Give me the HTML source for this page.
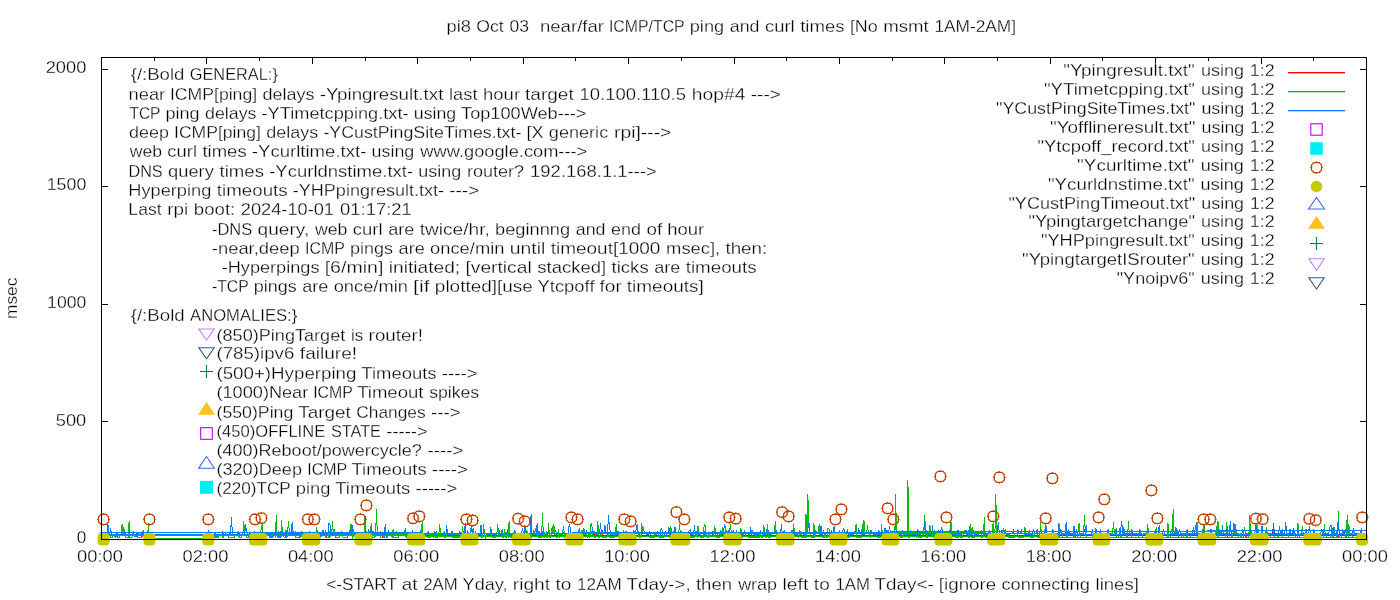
<!DOCTYPE html>
<html><head><meta charset="utf-8"><style>
html,body{margin:0;padding:0;background:#fff;width:1400px;height:600px;overflow:hidden}
svg{display:block;will-change:transform}
text{font-family:"Liberation Sans",sans-serif;fill:#000;stroke:#fff;stroke-width:0.3px}
</style></head><body>
<svg width="1400" height="600" viewBox="0 0 1400 600">
<rect width="1400" height="600" fill="#fff"/>
<g shape-rendering="crispEdges">
<polyline fill="none" stroke="#ff0000" stroke-width="1" points="206.9,535.5 207.8,535.5 208.7,535.5 209.6,535.5 210.4,535.5 211.3,535.5 212.2,535.5 213.1,535.5 213.9,535.5 214.8,535.5 215.7,535.5 216.6,535.5 217.5,535.5 218.3,535.5 219.2,535.5 220.1,535.5 221.0,535.5 221.9,535.5 222.7,535.5 223.6,535.5 224.5,535.5 225.4,533.5 226.2,535.5 227.1,535.5 228.0,535.5 228.9,535.5 229.8,535.5 230.6,535.5 231.5,535.5 232.4,535.5 233.3,535.5 234.1,535.5 235.0,535.5 235.9,535.5 236.8,535.5 237.7,535.5 238.5,535.5 239.4,535.5 240.3,535.5 241.2,535.5 242.1,535.5 242.9,535.5 243.8,535.5 244.7,535.5 245.6,535.5 246.4,535.5 247.3,535.5 248.2,535.5 249.1,535.5 250.0,533.5 250.8,535.5 251.7,535.5 252.6,535.5 253.5,535.5 254.4,535.5 255.2,535.5 256.1,535.5 257.0,535.5 257.9,535.5 258.7,535.5 259.6,536.5 260.5,535.5 261.4,535.5 262.3,535.5 263.1,535.5 264.0,535.5 264.9,535.5 265.8,535.5 266.7,535.5 267.5,535.5 268.4,535.5 269.3,535.5 270.2,535.5 271.0,535.5 271.9,535.5 272.8,535.5 273.7,535.5 274.6,535.5 275.4,535.5 276.3,535.5 277.2,535.5 278.1,535.5 279.0,535.5 279.8,535.5 280.7,535.5 281.6,535.5 282.5,535.5 283.3,535.5 284.2,535.5 285.1,535.5 286.0,535.5 286.9,535.5 287.7,535.5 288.6,535.5 289.5,535.5 290.4,535.5 291.3,535.5 292.1,535.5 293.0,535.5 293.9,535.5 294.8,535.5 295.6,535.5 296.5,535.5 297.4,535.5 298.3,535.5 299.2,535.5 300.0,535.5 300.9,535.5 301.8,535.5 302.7,535.5 303.5,535.5 304.4,535.5 305.3,535.5 306.2,535.5 307.1,535.5 307.9,535.5 308.8,535.5 309.7,535.5 310.6,535.5 311.5,535.5 312.3,535.5 313.2,535.5 314.1,535.5 315.0,535.5 315.8,535.5 316.7,535.5 317.6,535.5 318.5,535.5 319.4,535.5 320.2,535.5 321.1,535.5 322.0,535.5 322.9,535.5 323.8,535.5 324.6,535.5 325.5,535.5 326.4,536.5 327.3,535.5 328.1,535.5 329.0,535.5 329.9,535.5 330.8,535.5 331.7,535.5 332.5,535.5 333.4,535.5 334.3,535.5 335.2,535.5 336.1,535.5 336.9,535.5 337.8,535.5 338.7,535.5 339.6,535.5 340.4,535.5 341.3,535.5 342.2,535.5 343.1,535.5 344.0,535.5 344.8,535.5 345.7,535.5 346.6,535.5 347.5,535.5 348.4,535.5 349.2,535.5 350.1,535.5 351.0,535.5 351.9,535.5 352.7,535.5 353.6,535.5 354.5,535.5 355.4,535.5 356.3,535.5 357.1,535.5 358.0,535.5 358.9,535.5 359.8,535.5 360.6,535.5 361.5,535.5 362.4,536.5 363.3,535.5 364.2,533.5 365.0,535.5 365.9,535.5 366.8,535.5 367.7,535.5 368.6,535.5 369.4,535.5 370.3,535.5 371.2,535.5 372.1,535.5 372.9,535.5 373.8,535.5 374.7,535.5 375.6,533.5 376.5,535.5 377.3,535.5 378.2,535.5 379.1,535.5 380.0,535.5 380.9,535.5 381.7,535.5 382.6,536.5 383.5,535.5 384.4,535.5 385.2,535.5 386.1,535.5 387.0,535.5 387.9,535.5 388.8,535.5 389.6,535.5 390.5,535.5 391.4,535.5 392.3,535.5 393.2,535.5 394.0,535.5 394.9,535.5 395.8,535.5 396.7,535.5 397.5,535.5 398.4,535.5 399.3,535.5 400.2,535.5 401.1,535.5 401.9,535.5 402.8,535.5 403.7,535.5 404.6,535.5 405.5,535.5 406.3,535.5 407.2,535.5 408.1,535.5 409.0,535.5 409.8,535.5 410.7,535.5 411.6,535.5 412.5,535.5 413.4,535.5 414.2,535.5 415.1,535.5 416.0,535.5 416.9,535.5 417.8,535.5 418.6,535.5 419.5,535.5 420.4,535.5 421.3,535.5 422.1,535.5 423.0,535.5 423.9,535.5 424.8,535.5 425.7,535.5 426.5,535.5 427.4,535.5 428.3,535.5 429.2,535.5 430.0,535.5 430.9,535.5 431.8,535.5 432.7,535.5 433.6,535.5 434.4,535.5 435.3,535.5 436.2,535.5 437.1,535.5 438.0,535.5 438.8,535.5 439.7,535.5 440.6,535.5 441.5,535.5 442.3,535.5 443.2,535.5 444.1,535.5 445.0,535.5 445.9,535.5 446.7,535.5 447.6,535.5 448.5,535.5 449.4,535.5 450.3,535.5 451.1,535.5 452.0,535.5 452.9,535.5 453.8,535.5 454.6,536.5 455.5,535.5 456.4,535.5 457.3,535.5 458.2,535.5 459.0,535.5 459.9,535.5 460.8,535.5 461.7,535.5 462.6,535.5 463.4,535.5 464.3,535.5 465.2,535.5 466.1,535.5 466.9,535.5 467.8,535.5 468.7,535.5 469.6,535.5 470.5,535.5 471.3,535.5 472.2,535.5 473.1,535.5 474.0,535.5 474.9,533.5 475.7,535.5 476.6,535.5 477.5,535.5 478.4,535.5 479.2,535.5 480.1,535.5 481.0,535.5 481.9,535.5 482.8,535.5 483.6,535.5 484.5,535.5 485.4,535.5 486.3,535.5 487.1,535.5 488.0,535.5 488.9,535.5 489.8,535.5 490.7,535.5 491.5,535.5 492.4,535.5 493.3,535.5 494.2,535.5 495.1,535.5 495.9,535.5 496.8,535.5 497.7,535.5 498.6,535.5 499.4,535.5 500.3,535.5 501.2,535.5 502.1,535.5 503.0,535.5 503.8,535.5 504.7,535.5 505.6,536.5 506.5,533.5 507.4,535.5 508.2,535.5 509.1,535.5 510.0,535.5 510.9,535.5 511.7,535.5 512.6,535.5 513.5,535.5 514.4,535.5 515.3,535.5 516.1,535.5 517.0,535.5 517.9,535.5 518.8,535.5 519.7,535.5 520.5,535.5 521.4,535.5 522.3,535.5 523.2,535.5 524.0,535.5 524.9,535.5 525.8,535.5 526.7,535.5 527.6,535.5 528.4,533.5 529.3,535.5 530.2,536.5 531.1,535.5 532.0,535.5 532.8,535.5 533.7,535.5 534.6,535.5 535.5,535.5 536.3,535.5 537.2,535.5 538.1,535.5 539.0,535.5 539.9,535.5 540.7,535.5 541.6,535.5 542.5,535.5 543.4,535.5 544.3,535.5 545.1,535.5 546.0,535.5 546.9,535.5 547.8,535.5 548.6,535.5 549.5,535.5 550.4,535.5 551.3,535.5 552.2,535.5 553.0,535.5 553.9,535.5 554.8,535.5 555.7,535.5 556.5,535.5 557.4,535.5 558.3,535.5 559.2,535.5 560.1,535.5 560.9,535.5 561.8,535.5 562.7,535.5 563.6,535.5 564.5,535.5 565.3,535.5 566.2,535.5 567.1,535.5 568.0,535.5 568.8,533.5 569.7,535.5 570.6,535.5 571.5,535.5 572.4,535.5 573.2,535.5 574.1,535.5 575.0,535.5 575.9,535.5 576.8,535.5 577.6,535.5 578.5,535.5 579.4,536.5 580.3,535.5 581.1,535.5 582.0,535.5 582.9,535.5 583.8,535.5 584.7,535.5 585.5,535.5 586.4,535.5 587.3,535.5 588.2,535.5 589.1,535.5 589.9,535.5 590.8,535.5 591.7,535.5 592.6,535.5 593.4,535.5 594.3,533.5 595.2,535.5 596.1,535.5 597.0,535.5 597.8,535.5 598.7,535.5 599.6,535.5 600.5,535.5 601.4,535.5 602.2,533.5 603.1,535.5 604.0,535.5 604.9,535.5 605.7,535.5 606.6,535.5 607.5,535.5 608.4,535.5 609.3,535.5 610.1,535.5 611.0,535.5 611.9,535.5 612.8,535.5 613.6,535.5 614.5,535.5 615.4,535.5 616.3,535.5 617.2,535.5 618.0,535.5 618.9,535.5 619.8,535.5 620.7,535.5 621.6,535.5 622.4,535.5 623.3,535.5 624.2,535.5 625.1,536.5 625.9,535.5 626.8,535.5 627.7,535.5 628.6,535.5 629.5,535.5 630.3,535.5 631.2,535.5 632.1,535.5 633.0,535.5 633.9,535.5 634.7,535.5 635.6,535.5 636.5,535.5 637.4,535.5 638.2,535.5 639.1,535.5 640.0,535.5 640.9,535.5 641.8,535.5 642.6,535.5 643.5,535.5 644.4,535.5 645.3,535.5 646.2,536.5 647.0,535.5 647.9,535.5 648.8,535.5 649.7,535.5 650.5,535.5 651.4,535.5 652.3,535.5 653.2,535.5 654.1,535.5 654.9,535.5 655.8,535.5 656.7,535.5 657.6,535.5 658.5,535.5 659.3,535.5 660.2,535.5 661.1,535.5 662.0,535.5 662.8,535.5 663.7,535.5 664.6,535.5 665.5,535.5 666.4,535.5 667.2,535.5 668.1,535.5 669.0,535.5 669.9,535.5 670.7,535.5 671.6,535.5 672.5,535.5 673.4,535.5 674.3,533.5 675.1,535.5 676.0,535.5 676.9,535.5 677.8,535.5 678.7,535.5 679.5,535.5 680.4,535.5 681.3,535.5 682.2,535.5 683.0,535.5 683.9,535.5 684.8,535.5 685.7,535.5 686.6,535.5 687.4,535.5 688.3,535.5 689.2,535.5 690.1,535.5 691.0,535.5 691.8,535.5 692.7,535.5 693.6,535.5 694.5,535.5 695.3,535.5 696.2,535.5 697.1,535.5 698.0,535.5 698.9,535.5 699.7,535.5 700.6,535.5 701.5,535.5 702.4,535.5 703.3,535.5 704.1,535.5 705.0,535.5 705.9,535.5 706.8,535.5 707.6,535.5 708.5,535.5 709.4,535.5 710.3,535.5 711.2,535.5 712.0,535.5 712.9,535.5 713.8,535.5 714.7,535.5 715.6,535.5 716.4,535.5 717.3,535.5 718.2,535.5 719.1,535.5 719.9,535.5 720.8,535.5 721.7,535.5 722.6,535.5 723.5,535.5 724.3,535.5 725.2,535.5 726.1,535.5 727.0,536.5 727.9,535.5 728.7,535.5 729.6,535.5 730.5,535.5 731.4,535.5 732.2,535.5 733.1,535.5 734.0,535.5 734.9,535.5 735.8,535.5 736.6,535.5 737.5,535.5 738.4,535.5 739.3,535.5 740.1,535.5 741.0,535.5 741.9,535.5 742.8,535.5 743.7,535.5 744.5,535.5 745.4,535.5 746.3,535.5 747.2,535.5 748.1,535.5 748.9,535.5 749.8,535.5 750.7,535.5 751.6,535.5 752.4,535.5 753.3,535.5 754.2,535.5 755.1,535.5 756.0,535.5 756.8,535.5 757.7,535.5 758.6,535.5 759.5,535.5 760.4,535.5 761.2,535.5 762.1,535.5 763.0,535.5 763.9,535.5 764.7,535.5 765.6,535.5 766.5,535.5 767.4,535.5 768.3,535.5 769.1,535.5 770.0,535.5 770.9,535.5 771.8,535.5 772.7,535.5 773.5,535.5 774.4,535.5 775.3,535.5 776.2,535.5 777.0,535.5 777.9,535.5 778.8,535.5 779.7,535.5 780.6,535.5 781.4,535.5 782.3,535.5 783.2,535.5 784.1,535.5 785.0,535.5 785.8,535.5 786.7,535.5 787.6,535.5 788.5,535.5 789.3,535.5 790.2,535.5 791.1,535.5 792.0,535.5 792.9,535.5 793.7,535.5 794.6,535.5 795.5,535.5 796.4,535.5 797.2,535.5 798.1,535.5 799.0,535.5 799.9,535.5 800.8,533.5 801.6,535.5 802.5,535.5 803.4,535.5 804.3,535.5 805.2,535.5 806.0,535.5 806.9,535.5 807.8,535.5 808.7,535.5 809.5,535.5 810.4,535.5 811.3,535.5 812.2,535.5 813.1,535.5 813.9,535.5 814.8,535.5 815.7,535.5 816.6,535.5 817.5,535.5 818.3,535.5 819.2,535.5 820.1,535.5 821.0,535.5 821.8,535.5 822.7,535.5 823.6,535.5 824.5,535.5 825.4,535.5 826.2,535.5 827.1,535.5 828.0,535.5 828.9,535.5 829.8,535.5 830.6,535.5 831.5,535.5 832.4,535.5 833.3,535.5 834.1,535.5 835.0,535.5 835.9,535.5 836.8,535.5 837.7,535.5 838.5,535.5 839.4,535.5 840.3,535.5 841.2,535.5 842.1,535.5 842.9,535.5 843.8,535.5 844.7,535.5 845.6,535.5 846.4,535.5 847.3,535.5 848.2,535.5 849.1,535.5 850.0,535.5 850.8,535.5 851.7,535.5 852.6,535.5 853.5,535.5 854.4,535.5 855.2,535.5 856.1,535.5 857.0,535.5 857.9,535.5 858.7,535.5 859.6,535.5 860.5,535.5 861.4,535.5 862.3,535.5 863.1,535.5 864.0,535.5 864.9,535.5 865.8,535.5 866.6,535.5 867.5,535.5 868.4,535.5 869.3,535.5 870.2,535.5 871.0,535.5 871.9,535.5 872.8,535.5 873.7,535.5 874.6,535.5 875.4,535.5 876.3,535.5 877.2,535.5 878.1,535.5 878.9,535.5 879.8,535.5 880.7,535.5 881.6,535.5 882.5,535.5 883.3,535.5 884.2,535.5 885.1,535.5 886.0,535.5 886.9,535.5 887.7,536.5 888.6,535.5 889.5,535.5 890.4,535.5 891.2,535.5 892.1,535.5 893.0,535.5 893.9,535.5 894.8,535.5 895.6,535.5 896.5,535.5 897.4,535.5 898.3,535.5 899.2,535.5 900.0,535.5 900.9,535.5 901.8,535.5 902.7,535.5 903.5,535.5 904.4,535.5 905.3,535.5 906.2,535.5 907.1,535.5 907.9,535.5 908.8,535.5 909.7,535.5 910.6,535.5 911.5,535.5 912.3,535.5 913.2,535.5 914.1,535.5 915.0,533.5 915.8,535.5 916.7,535.5 917.6,535.5 918.5,535.5 919.4,535.5 920.2,535.5 921.1,535.5 922.0,535.5 922.9,535.5 923.7,535.5 924.6,535.5 925.5,535.5 926.4,535.5 927.3,535.5 928.1,535.5 929.0,535.5 929.9,535.5 930.8,535.5 931.7,535.5 932.5,535.5 933.4,535.5 934.3,535.5 935.2,535.5 936.0,536.5 936.9,535.5 937.8,535.5 938.7,535.5 939.6,535.5 940.4,535.5 941.3,535.5 942.2,535.5 943.1,535.5 944.0,535.5 944.8,535.5 945.7,535.5 946.6,535.5 947.5,535.5 948.3,535.5 949.2,535.5 950.1,535.5 951.0,535.5 951.9,535.5 952.7,535.5 953.6,535.5 954.5,535.5 955.4,535.5 956.3,535.5 957.1,535.5 958.0,535.5 958.9,535.5 959.8,535.5 960.6,535.5 961.5,535.5 962.4,535.5 963.3,535.5 964.2,535.5 965.0,535.5 965.9,535.5 966.8,535.5 967.7,535.5 968.6,535.5 969.4,535.5 970.3,535.5 971.2,535.5 972.1,535.5 972.9,535.5 973.8,535.5 974.7,535.5 975.6,535.5 976.5,535.5 977.3,535.5 978.2,535.5 979.1,535.5 980.0,535.5 980.9,535.5 981.7,535.5 982.6,535.5 983.5,535.5 984.4,535.5 985.2,535.5 986.1,535.5 987.0,535.5 987.9,535.5 988.8,535.5 989.6,535.5 990.5,535.5 991.4,535.5 992.3,535.5 993.1,535.5 994.0,535.5 994.9,535.5 995.8,535.5 996.7,535.5 997.5,535.5 998.4,535.5 999.3,535.5 1000.2,535.5 1001.1,535.5 1001.9,535.5 1002.8,535.5 1003.7,535.5 1004.6,535.5 1005.4,535.5 1006.3,535.5 1007.2,533.5 1008.1,535.5 1009.0,535.5 1009.8,535.5 1010.7,535.5 1011.6,535.5 1012.5,535.5 1013.4,535.5 1014.2,535.5 1015.1,535.5 1016.0,535.5 1016.9,535.5 1017.7,535.5 1018.6,535.5 1019.5,535.5 1020.4,535.5 1021.3,535.5 1022.1,535.5 1023.0,535.5 1023.9,535.5 1024.8,535.5 1025.7,535.5 1026.5,535.5 1027.4,536.5 1028.3,535.5 1029.2,535.5 1030.0,535.5 1030.9,535.5 1031.8,535.5 1032.7,535.5 1033.6,535.5 1034.4,535.5 1035.3,535.5 1036.2,535.5 1037.1,535.5 1038.0,535.5 1038.8,535.5 1039.7,535.5 1040.6,535.5 1041.5,535.5 1042.3,535.5 1043.2,533.5 1044.1,535.5 1045.0,535.5 1045.9,535.5 1046.7,535.5 1047.6,535.5 1048.5,535.5 1049.4,535.5 1050.2,535.5 1051.1,535.5 1052.0,535.5 1052.9,535.5 1053.8,535.5 1054.6,535.5 1055.5,535.5 1056.4,535.5 1057.3,535.5 1058.2,535.5 1059.0,535.5 1059.9,535.5 1060.8,535.5 1061.7,535.5 1062.5,535.5 1063.4,535.5 1064.3,535.5 1065.2,535.5 1066.1,535.5 1066.9,535.5 1067.8,535.5 1068.7,535.5 1069.6,535.5 1070.5,535.5 1071.3,535.5 1072.2,535.5 1073.1,533.5 1074.0,535.5 1074.8,535.5 1075.7,535.5 1076.6,535.5 1077.5,535.5 1078.4,535.5 1079.2,535.5 1080.1,535.5 1081.0,535.5 1081.9,535.5 1082.8,535.5 1083.6,535.5 1084.5,535.5 1085.4,535.5 1086.3,535.5 1087.1,535.5 1088.0,535.5 1088.9,535.5 1089.8,535.5 1090.7,535.5 1091.5,535.5 1092.4,535.5 1093.3,535.5 1094.2,535.5 1095.1,535.5 1095.9,535.5 1096.8,535.5 1097.7,535.5 1098.6,535.5 1099.4,535.5 1100.3,535.5 1101.2,535.5 1102.1,535.5 1103.0,535.5 1103.8,535.5 1104.7,535.5 1105.6,535.5 1106.5,535.5 1107.4,533.5 1108.2,535.5 1109.1,535.5 1110.0,535.5 1110.9,535.5 1111.7,535.5 1112.6,535.5 1113.5,535.5 1114.4,535.5 1115.3,535.5 1116.1,535.5 1117.0,535.5 1117.9,535.5 1118.8,535.5 1119.6,535.5 1120.5,535.5 1121.4,535.5 1122.3,535.5 1123.2,535.5 1124.0,535.5 1124.9,535.5 1125.8,535.5 1126.7,535.5 1127.6,535.5 1128.4,535.5 1129.3,535.5 1130.2,535.5 1131.1,535.5 1131.9,535.5 1132.8,535.5 1133.7,535.5 1134.6,535.5 1135.5,535.5 1136.3,535.5 1137.2,535.5 1138.1,535.5 1139.0,535.5 1139.9,535.5 1140.7,535.5 1141.6,535.5 1142.5,535.5 1143.4,535.5 1144.2,535.5 1145.1,535.5 1146.0,535.5 1146.9,535.5 1147.8,535.5 1148.6,535.5 1149.5,535.5 1150.4,535.5 1151.3,535.5 1152.2,535.5 1153.0,535.5 1153.9,535.5 1154.8,535.5 1155.7,535.5 1156.5,535.5 1157.4,535.5 1158.3,535.5 1159.2,535.5 1160.1,535.5 1160.9,535.5 1161.8,535.5 1162.7,535.5 1163.6,535.5 1164.5,535.5 1165.3,535.5 1166.2,535.5 1167.1,535.5 1168.0,535.5 1168.8,535.5 1169.7,535.5 1170.6,535.5 1171.5,535.5 1172.4,535.5 1173.2,535.5 1174.1,535.5 1175.0,535.5 1175.9,535.5 1176.7,535.5 1177.6,535.5 1178.5,535.5 1179.4,535.5 1180.3,535.5 1181.1,535.5 1182.0,535.5 1182.9,535.5 1183.8,535.5 1184.7,535.5 1185.5,535.5 1186.4,535.5 1187.3,535.5 1188.2,535.5 1189.0,535.5 1189.9,535.5 1190.8,535.5 1191.7,535.5 1192.6,535.5 1193.4,535.5 1194.3,535.5 1195.2,535.5 1196.1,535.5 1197.0,535.5 1197.8,535.5 1198.7,535.5 1199.6,535.5 1200.5,535.5 1201.3,535.5 1202.2,535.5 1203.1,535.5 1204.0,535.5 1204.9,535.5 1205.7,535.5 1206.6,535.5 1207.5,535.5 1208.4,535.5 1209.3,535.5 1210.1,535.5 1211.0,536.5 1211.9,535.5 1212.8,535.5 1213.6,535.5 1214.5,535.5 1215.4,535.5 1216.3,535.5 1217.2,535.5 1218.0,535.5 1218.9,535.5 1219.8,535.5 1220.7,535.5 1221.6,535.5 1222.4,535.5 1223.3,535.5 1224.2,535.5 1225.1,535.5 1225.9,535.5 1226.8,535.5 1227.7,535.5 1228.6,535.5 1229.5,535.5 1230.3,535.5 1231.2,535.5 1232.1,535.5 1233.0,535.5 1233.9,535.5 1234.7,535.5 1235.6,535.5 1236.5,535.5 1237.4,535.5 1238.2,535.5 1239.1,535.5 1240.0,535.5 1240.9,535.5 1241.8,535.5 1242.6,535.5 1243.5,535.5 1244.4,535.5 1245.3,535.5 1246.1,536.5 1247.0,535.5 1247.9,535.5 1248.8,535.5 1249.7,535.5 1250.5,535.5 1251.4,535.5 1252.3,535.5 1253.2,535.5 1254.1,535.5 1254.9,535.5 1255.8,535.5 1256.7,535.5 1257.6,535.5 1258.4,535.5 1259.3,535.5 1260.2,535.5 1261.1,535.5 1262.0,535.5 1262.8,535.5 1263.7,535.5 1264.6,535.5 1265.5,535.5 1266.4,535.5 1267.2,535.5 1268.1,535.5 1269.0,535.5 1269.9,535.5 1270.7,535.5 1271.6,535.5 1272.5,535.5 1273.4,523.5 1274.3,535.5 1275.1,535.5 1276.0,535.5 1276.9,535.5 1277.8,535.5 1278.7,535.5 1279.5,535.5 1280.4,535.5 1281.3,535.5 1282.2,535.5 1283.0,535.5 1283.9,535.5 1284.8,535.5 1285.7,535.5 1286.6,535.5 1287.4,535.5 1288.3,535.5 1289.2,535.5 1290.1,535.5 1291.0,535.5 1291.8,535.5 1292.7,535.5 1293.6,533.5 1294.5,535.5 1295.3,535.5 1296.2,535.5 1297.1,535.5 1298.0,535.5 1298.9,535.5 1299.7,535.5 1300.6,535.5 1301.5,535.5 1302.4,535.5 1303.2,535.5 1304.1,535.5 1305.0,535.5 1305.9,535.5 1306.8,535.5 1307.6,535.5 1308.5,535.5 1309.4,535.5 1310.3,535.5 1311.2,535.5 1312.0,535.5 1312.9,535.5 1313.8,535.5 1314.7,535.5 1315.5,535.5 1316.4,535.5 1317.3,535.5 1318.2,535.5 1319.1,535.5 1319.9,535.5 1320.8,535.5 1321.7,535.5 1322.6,535.5 1323.5,535.5 1324.3,535.5 1325.2,535.5 1326.1,535.5 1327.0,535.5 1327.8,535.5 1328.7,535.5 1329.6,535.5 1330.5,535.5 1331.4,535.5 1332.2,535.5 1333.1,535.5 1334.0,535.5 1334.9,535.5 1335.8,535.5 1336.6,535.5 1337.5,535.5 1338.4,536.5 1339.3,535.5 1340.1,535.5 1341.0,535.5 1341.9,535.5 1342.8,535.5 1343.7,535.5 1344.5,535.5 1345.4,535.5 1346.3,535.5 1347.2,535.5 1348.1,535.5 1348.9,535.5 1349.8,535.5 1350.7,535.5 1351.6,535.5 1352.4,535.5 1353.3,535.5 1354.2,535.5 1355.1,535.5 1356.0,535.5 1356.8,535.5 1357.7,535.5 1358.6,535.5 1359.5,535.5 1360.4,535.5 1361.2,535.5 1362.1,535.5 1363.0,535.5 1363.9,535.5 1364.7,535.5 1365.6,535.5 101.0,535.5 101.9,535.5 102.8,535.5 103.6,535.5 104.5,535.5 105.4,535.5 106.3,535.5 107.1,535.5 108.0,535.5 108.9,535.5 109.8,535.5 110.7,535.5 111.5,535.5 112.4,535.5 113.3,535.5 114.2,535.5 115.1,535.5 115.9,535.5 116.8,535.5 117.7,535.5 118.6,535.5 119.4,535.5 120.3,535.5 121.2,535.5 122.1,535.5 123.0,535.5 123.8,535.5 124.7,535.5 125.6,535.5 126.5,535.5 127.4,535.5 128.2,535.5 129.1,535.5 130.0,535.5 130.9,535.5 131.7,535.5 132.6,535.5 133.5,535.5 134.4,535.5 135.3,535.5 136.1,533.5 137.0,535.5 137.9,535.5 138.8,535.5 139.7,535.5 140.5,535.5 141.4,535.5 142.3,536.5 143.2,535.5 144.0,535.5 144.9,535.5 145.8,535.5 146.7,535.5 147.6,535.5 148.4,535.5 149.3,535.5"/>
<line x1="101" y1="535.5" x2="1366" y2="530.5" stroke="#00c000" stroke-width="1"/>
<rect x="150" y="538" width="60" height="1" fill="#00c000"/>
<polyline fill="none" stroke="#00c000" stroke-width="1" points="206.9,535.2 207.8,535.2 208.7,537.5 209.6,537.5 210.4,537.5 211.3,537.5 212.2,535.1 213.1,535.1 213.9,535.1 214.8,537.5 215.7,537.5 216.6,537.5 217.5,537.5 218.3,537.5 219.2,535.1 220.1,535.1 221.0,535.1 221.9,535.1 222.7,537.5 223.6,537.5 224.5,535.1 225.4,535.1 226.2,535.1 227.1,535.1 228.0,535.1 228.9,537.5 229.8,537.5 230.6,537.5 231.5,537.5 232.4,537.5 233.3,537.5 234.1,537.5 235.0,535.1 235.9,535.1 236.8,535.1 237.7,535.1 238.5,535.1 239.4,537.5 240.3,537.5 241.2,537.5 242.1,535.1 242.9,535.1 243.8,521.5 244.7,535.1 245.6,535.1 246.4,537.5 247.3,537.5 248.2,537.5 249.1,535.0 250.0,535.0 250.8,535.0 251.7,537.5 252.6,537.5 253.5,537.5 254.4,537.5 255.2,537.5 256.1,537.5 257.0,537.5 257.9,535.0 258.7,535.0 259.6,535.0 260.5,535.0 261.4,527.0 262.3,523.5 263.1,537.5 264.0,537.5 264.9,537.5 265.8,535.0 266.7,535.0 267.5,535.0 268.4,535.0 269.3,535.0 270.2,537.5 271.0,537.5 271.9,537.5 272.8,537.5 273.7,535.0 274.6,535.0 275.4,537.5 276.3,515.5 277.2,537.5 278.1,537.5 279.0,537.5 279.8,537.5 280.7,537.5 281.6,520.5 282.5,534.9 283.3,534.9 284.2,537.5 285.1,537.5 286.0,529.9 286.9,537.5 287.7,529.9 288.6,521.5 289.5,534.9 290.4,534.9 291.3,534.9 292.1,529.9 293.0,534.9 293.9,534.9 294.8,534.9 295.6,537.5 296.5,537.5 297.4,537.5 298.3,537.5 299.2,537.5 300.0,534.9 300.9,537.5 301.8,534.9 302.7,534.9 303.5,537.5 304.4,534.9 305.3,534.9 306.2,534.9 307.1,534.9 307.9,534.9 308.8,537.5 309.7,537.5 310.6,537.5 311.5,537.5 312.3,537.5 313.2,534.8 314.1,534.8 315.0,537.5 315.8,537.5 316.7,526.8 317.6,537.5 318.5,537.5 319.4,537.5 320.2,537.5 321.1,534.8 322.0,534.8 322.9,534.8 323.8,534.8 324.6,534.8 325.5,537.5 326.4,537.5 327.3,537.5 328.1,537.5 329.0,530.8 329.9,537.5 330.8,534.8 331.7,534.8 332.5,521.5 333.4,534.8 334.3,528.8 335.2,537.5 336.1,537.5 336.9,537.5 337.8,537.5 338.7,537.5 339.6,537.5 340.4,534.7 341.3,534.7 342.2,534.7 343.1,537.5 344.0,537.5 344.8,537.5 345.7,537.5 346.6,537.5 347.5,537.5 348.4,534.7 349.2,534.7 350.1,534.7 351.0,524.5 351.9,534.7 352.7,537.5 353.6,534.7 354.5,534.7 355.4,534.7 356.3,534.7 357.1,534.7 358.0,534.7 358.9,534.7 359.8,537.5 360.6,537.5 361.5,534.7 362.4,534.7 363.3,534.7 364.2,534.7 365.0,515.5 365.9,534.7 366.8,531.7 367.7,534.7 368.6,537.5 369.4,537.5 370.3,537.5 371.2,523.5 372.1,537.5 372.9,537.5 373.8,537.5 374.7,537.5 375.6,534.6 376.5,508.8 377.3,534.6 378.2,534.6 379.1,534.6 380.0,534.6 380.9,537.5 381.7,537.5 382.6,537.5 383.5,537.5 384.4,537.5 385.2,537.5 386.1,537.5 387.0,537.5 387.9,534.6 388.8,534.6 389.6,534.6 390.5,534.6 391.4,534.6 392.3,537.5 393.2,528.6 394.0,537.5 394.9,537.5 395.8,537.5 396.7,537.5 397.5,537.5 398.4,537.5 399.3,534.6 400.2,534.6 401.1,534.6 401.9,534.6 402.8,534.6 403.7,534.6 404.6,534.6 405.5,534.6 406.3,537.5 407.2,537.5 408.1,537.5 409.0,537.5 409.8,537.5 410.7,537.5 411.6,534.5 412.5,534.5 413.4,534.5 414.2,534.5 415.1,534.5 416.0,534.5 416.9,534.5 417.8,537.5 418.6,537.5 419.5,537.5 420.4,537.5 421.3,534.5 422.1,522.5 423.0,534.5 423.9,534.5 424.8,534.5 425.7,534.5 426.5,534.5 427.4,537.5 428.3,537.5 429.2,537.5 430.0,537.5 430.9,534.5 431.8,534.5 432.7,534.5 433.6,537.5 434.4,531.4 435.3,537.5 436.2,537.5 437.1,537.5 438.0,537.5 438.8,534.4 439.7,524.5 440.6,534.4 441.5,534.4 442.3,534.4 443.2,534.4 444.1,534.4 445.0,537.5 445.9,537.5 446.7,534.4 447.6,534.4 448.5,534.4 449.4,534.4 450.3,534.4 451.1,534.4 452.0,534.4 452.9,537.5 453.8,537.5 454.6,537.5 455.5,537.5 456.4,537.5 457.3,537.5 458.2,537.5 459.0,537.5 459.9,534.4 460.8,534.4 461.7,534.4 462.6,526.4 463.4,534.4 464.3,534.4 465.2,534.4 466.1,534.4 466.9,537.5 467.8,537.5 468.7,537.5 469.6,537.5 470.5,537.5 471.3,534.3 472.2,534.3 473.1,537.5 474.0,537.5 474.9,537.5 475.7,537.5 476.6,534.3 477.5,534.3 478.4,534.3 479.2,534.3 480.1,534.3 481.0,534.3 481.9,537.5 482.8,537.5 483.6,524.5 484.5,534.3 485.4,537.5 486.3,534.3 487.1,534.3 488.0,534.3 488.9,534.3 489.8,534.3 490.7,534.3 491.5,534.3 492.4,537.5 493.3,537.5 494.2,537.5 495.1,537.5 495.9,534.3 496.8,534.3 497.7,524.2 498.6,534.3 499.4,534.3 500.3,534.3 501.2,534.3 502.1,537.5 503.0,537.5 503.8,537.5 504.7,529.2 505.6,537.5 506.5,537.5 507.4,529.2 508.2,537.5 509.1,521.5 510.0,534.2 510.9,537.5 511.7,537.5 512.6,534.2 513.5,534.2 514.4,537.5 515.3,537.5 516.1,537.5 517.0,537.5 517.9,537.5 518.8,537.5 519.7,534.2 520.5,534.2 521.4,537.5 522.3,537.5 523.2,534.2 524.0,534.2 524.9,534.2 525.8,537.5 526.7,530.2 527.6,534.2 528.4,534.2 529.3,537.5 530.2,537.5 531.1,537.5 532.0,534.1 532.8,534.1 533.7,534.1 534.6,534.1 535.5,528.1 536.3,534.1 537.2,534.1 538.1,534.1 539.0,537.5 539.9,537.5 540.7,537.5 541.6,537.5 542.5,513.5 543.4,537.5 544.3,537.5 545.1,534.1 546.0,534.1 546.9,537.5 547.8,537.5 548.6,523.5 549.5,537.5 550.4,537.5 551.3,534.1 552.2,526.1 553.0,534.1 553.9,524.5 554.8,534.1 555.7,534.1 556.5,537.5 557.4,537.5 558.3,529.1 559.2,537.5 560.1,534.0 560.9,534.0 561.8,534.0 562.7,534.0 563.6,526.0 564.5,537.5 565.3,534.0 566.2,534.0 567.1,534.0 568.0,534.0 568.8,537.5 569.7,534.0 570.6,534.0 571.5,534.0 572.4,534.0 573.2,534.0 574.1,534.0 575.0,534.0 575.9,534.0 576.8,537.5 577.6,537.5 578.5,537.5 579.4,537.5 580.3,537.5 581.1,537.5 582.0,530.0 582.9,534.0 583.8,534.0 584.7,534.0 585.5,534.0 586.4,534.0 587.3,537.5 588.2,534.0 589.1,534.0 589.9,537.5 590.8,524.5 591.7,523.9 592.6,534.0 593.4,534.0 594.3,537.5 595.2,537.5 596.1,533.9 597.0,533.9 597.8,521.5 598.7,537.5 599.6,537.5 600.5,533.9 601.4,533.9 602.2,537.5 603.1,537.5 604.0,537.5 604.9,537.5 605.7,537.5 606.6,537.5 607.5,533.9 608.4,533.9 609.3,537.5 610.1,537.5 611.0,537.5 611.9,537.5 612.8,537.5 613.6,537.5 614.5,537.5 615.4,533.9 616.3,524.5 617.2,533.9 618.0,533.9 618.9,533.9 619.8,533.9 620.7,533.9 621.6,537.5 622.4,537.5 623.3,529.8 624.2,533.8 625.1,533.8 625.9,533.8 626.8,533.8 627.7,533.8 628.6,533.8 629.5,537.5 630.3,537.5 631.2,537.5 632.1,533.8 633.0,533.8 633.9,533.8 634.7,533.8 635.6,533.8 636.5,533.8 637.4,533.8 638.2,533.8 639.1,537.5 640.0,537.5 640.9,537.5 641.8,523.5 642.6,533.8 643.5,527.5 644.4,533.8 645.3,533.8 646.2,533.8 647.0,533.8 647.9,533.8 648.8,533.8 649.7,537.5 650.5,537.5 651.4,537.5 652.3,537.5 653.2,537.5 654.1,537.5 654.9,533.7 655.8,533.7 656.7,533.7 657.6,533.7 658.5,533.7 659.3,537.5 660.2,537.5 661.1,537.5 662.0,537.5 662.8,537.5 663.7,537.5 664.6,533.7 665.5,533.7 666.4,533.7 667.2,533.7 668.1,533.7 669.0,533.7 669.9,537.5 670.7,525.7 671.6,533.7 672.5,533.7 673.4,533.7 674.3,533.7 675.1,533.7 676.0,537.5 676.9,533.7 677.8,533.7 678.7,533.7 679.5,524.5 680.4,533.7 681.3,537.5 682.2,537.5 683.0,537.5 683.9,533.7 684.8,533.7 685.7,533.7 686.6,533.7 687.4,533.7 688.3,537.5 689.2,537.5 690.1,537.5 691.0,537.5 691.8,537.5 692.7,537.5 693.6,537.5 694.5,537.5 695.3,533.6 696.2,533.6 697.1,537.5 698.0,525.6 698.9,533.6 699.7,533.6 700.6,537.5 701.5,537.5 702.4,537.5 703.3,537.5 704.1,525.6 705.0,524.5 705.9,533.6 706.8,533.6 707.6,537.5 708.5,537.5 709.4,533.6 710.3,533.6 711.2,533.6 712.0,533.6 712.9,533.6 713.8,533.6 714.7,525.6 715.6,533.6 716.4,537.5 717.3,537.5 718.2,537.5 719.1,537.5 719.9,537.5 720.8,533.5 721.7,533.5 722.6,527.5 723.5,537.5 724.3,537.5 725.2,537.5 726.1,537.5 727.0,530.5 727.9,537.5 728.7,533.5 729.6,530.5 730.5,524.5 731.4,533.5 732.2,533.5 733.1,530.5 734.0,537.5 734.9,533.5 735.8,533.5 736.6,533.5 737.5,533.5 738.4,537.5 739.3,537.5 740.1,537.5 741.0,528.5 741.9,537.5 742.8,537.5 743.7,533.5 744.5,533.5 745.4,533.5 746.3,533.5 747.2,533.5 748.1,533.5 748.9,537.5 749.8,537.5 750.7,537.5 751.6,537.5 752.4,537.5 753.3,537.5 754.2,537.5 755.1,537.5 756.0,533.5 756.8,537.5 757.7,537.5 758.6,537.5 759.5,537.5 760.4,533.5 761.2,537.5 762.1,537.5 763.0,533.5 763.9,525.4 764.7,533.5 765.6,533.5 766.5,537.5 767.4,524.5 768.3,537.5 769.1,537.5 770.0,537.5 770.9,537.5 771.8,533.5 772.7,533.5 773.5,533.5 774.4,533.5 775.3,521.5 776.2,537.5 777.0,533.5 777.9,537.5 778.8,533.5 779.7,533.5 780.6,537.5 781.4,537.5 782.3,533.5 783.2,533.5 784.1,533.5 785.0,533.5 785.8,537.5 786.7,537.5 787.6,537.5 788.5,537.5 789.3,537.5 790.2,537.5 791.1,533.5 792.0,533.5 792.9,533.5 793.7,524.5 794.6,533.5 795.5,533.5 796.4,533.5 797.2,533.5 798.1,537.5 799.0,537.5 799.9,533.5 800.8,533.5 801.6,537.5 802.5,537.5 803.4,537.5 804.3,537.5 805.2,537.5 806.0,514.5 806.9,537.5 807.8,494.5 808.7,516.5 809.5,533.5 810.4,533.5 811.3,537.5 812.2,537.5 813.1,537.5 813.9,523.5 814.8,537.5 815.7,533.5 816.6,533.5 817.5,533.5 818.3,533.5 819.2,524.5 820.1,533.5 821.0,533.5 821.8,533.5 822.7,537.5 823.6,537.5 824.5,537.5 825.4,533.5 826.2,537.5 827.1,537.5 828.0,528.2 828.9,528.2 829.8,537.5 830.6,537.5 831.5,537.5 832.4,537.5 833.3,533.5 834.1,533.5 835.0,533.5 835.9,533.5 836.8,533.5 837.7,533.5 838.5,533.5 839.4,533.5 840.3,537.5 841.2,537.5 842.1,537.5 842.9,537.5 843.8,537.5 844.7,533.5 845.6,533.5 846.4,533.5 847.3,537.5 848.2,537.5 849.1,537.5 850.0,533.5 850.8,533.5 851.7,533.5 852.6,533.5 853.5,533.5 854.4,533.5 855.2,533.5 856.1,524.5 857.0,537.5 857.9,537.5 858.7,537.5 859.6,537.5 860.5,537.5 861.4,537.5 862.3,524.5 863.1,533.5 864.0,520.5 864.9,533.5 865.8,533.5 866.6,533.5 867.5,525.1 868.4,533.5 869.3,533.5 870.2,537.5 871.0,533.5 871.9,533.5 872.8,533.5 873.7,533.5 874.6,533.5 875.4,533.5 876.3,533.5 877.2,537.5 878.1,537.5 878.9,537.5 879.8,537.5 880.7,537.5 881.6,524.5 882.5,537.5 883.3,537.5 884.2,533.5 885.1,533.5 886.0,533.5 886.9,533.5 887.7,533.5 888.6,533.5 889.5,533.5 890.4,533.5 891.2,537.5 892.1,537.5 893.0,537.5 893.9,533.5 894.8,537.5 895.6,494.5 896.5,533.5 897.4,533.5 898.3,533.5 899.2,533.5 900.0,533.5 900.9,537.5 901.8,537.5 902.7,537.5 903.5,533.5 904.4,533.5 905.3,533.5 906.2,533.5 907.1,533.5 907.9,480.5 908.8,537.5 909.7,537.5 910.6,533.5 911.5,533.5 912.3,533.5 913.2,533.5 914.1,533.5 915.0,533.5 915.8,533.5 916.7,537.5 917.6,528.9 918.5,537.5 919.4,537.5 920.2,537.5 921.1,537.5 922.0,537.5 922.9,533.5 923.7,533.5 924.6,515.5 925.5,527.9 926.4,537.5 927.3,537.5 928.1,533.5 929.0,533.5 929.9,524.9 930.8,533.5 931.7,533.5 932.5,533.5 933.4,537.5 934.3,533.5 935.2,533.5 936.0,533.5 936.9,533.5 937.8,533.5 938.7,537.5 939.6,533.5 940.4,533.5 941.3,533.5 942.2,533.5 943.1,537.5 944.0,537.5 944.8,537.5 945.7,537.5 946.6,537.5 947.5,537.5 948.3,537.5 949.2,533.5 950.1,533.5 951.0,521.5 951.9,533.5 952.7,533.5 953.6,533.5 954.5,533.5 955.4,537.5 956.3,537.5 957.1,529.8 958.0,537.5 958.9,537.5 959.8,533.5 960.6,537.5 961.5,537.5 962.4,537.5 963.3,533.5 964.2,533.5 965.0,529.8 965.9,533.5 966.8,533.5 967.7,533.5 968.6,537.5 969.4,537.5 970.3,524.5 971.2,537.5 972.1,526.7 972.9,537.5 973.8,537.5 974.7,537.5 975.6,533.5 976.5,533.5 977.3,533.5 978.2,533.5 979.1,533.5 980.0,533.5 980.9,533.5 981.7,537.5 982.6,537.5 983.5,533.5 984.4,517.5 985.2,537.5 986.1,537.5 987.0,537.5 987.9,537.5 988.8,537.5 989.6,537.5 990.5,533.5 991.4,533.5 992.3,533.5 993.1,522.7 994.0,533.5 994.9,533.5 995.8,494.5 996.7,537.5 997.5,529.7 998.4,537.5 999.3,537.5 1000.2,537.5 1001.1,537.5 1001.9,533.5 1002.8,533.5 1003.7,527.6 1004.6,533.5 1005.4,533.5 1006.3,533.5 1007.2,533.5 1008.1,533.5 1009.0,537.5 1009.8,537.5 1010.7,537.5 1011.6,537.5 1012.5,537.5 1013.4,537.5 1014.2,537.5 1015.1,533.5 1016.0,533.5 1016.9,533.5 1017.7,533.5 1018.6,537.5 1019.5,537.5 1020.4,537.5 1021.3,537.5 1022.1,537.5 1023.0,537.5 1023.9,537.5 1024.8,526.6 1025.7,533.5 1026.5,533.5 1027.4,533.5 1028.3,533.5 1029.2,533.5 1030.0,533.5 1030.9,537.5 1031.8,537.5 1032.7,537.5 1033.6,537.5 1034.4,533.5 1035.3,533.5 1036.2,533.5 1037.1,533.5 1038.0,537.5 1038.8,537.5 1039.7,537.5 1040.6,522.5 1041.5,537.5 1042.3,537.5 1043.2,533.5 1044.1,537.5 1045.0,537.5 1045.9,524.5 1046.7,537.5 1047.6,537.5 1048.5,537.5 1049.4,533.5 1050.2,533.5 1051.1,533.5 1052.0,533.5 1052.9,533.5 1053.8,533.5 1054.6,533.5 1055.5,533.5 1056.4,537.5 1057.3,537.5 1058.2,537.5 1059.0,524.5 1059.9,537.5 1060.8,537.5 1061.7,537.5 1062.5,537.5 1063.4,533.5 1064.3,533.5 1065.2,533.5 1066.1,533.5 1066.9,537.5 1067.8,533.5 1068.7,533.5 1069.6,533.5 1070.5,533.5 1071.3,533.5 1072.2,533.5 1073.1,533.5 1074.0,537.5 1074.8,537.5 1075.7,533.5 1076.6,529.4 1077.5,537.5 1078.4,527.4 1079.2,523.5 1080.1,537.5 1081.0,533.5 1081.9,533.5 1082.8,533.5 1083.6,533.5 1084.5,515.5 1085.4,533.5 1086.3,537.5 1087.1,537.5 1088.0,537.5 1088.9,537.5 1089.8,537.5 1090.7,537.5 1091.5,537.5 1092.4,537.5 1093.3,533.5 1094.2,533.5 1095.1,533.5 1095.9,533.5 1096.8,533.5 1097.7,533.5 1098.6,537.5 1099.4,537.5 1100.3,537.5 1101.2,537.5 1102.1,537.5 1103.0,537.5 1103.8,537.5 1104.7,537.5 1105.6,533.5 1106.5,537.5 1107.4,537.5 1108.2,533.5 1109.1,537.5 1110.0,533.5 1110.9,533.5 1111.7,533.5 1112.6,533.5 1113.5,522.3 1114.4,533.5 1115.3,533.5 1116.1,528.3 1117.0,537.5 1117.9,537.5 1118.8,537.5 1119.6,528.3 1120.5,537.5 1121.4,537.5 1122.3,533.5 1123.2,527.3 1124.0,533.5 1124.9,533.5 1125.8,533.5 1126.7,537.5 1127.6,537.5 1128.4,521.5 1129.3,533.5 1130.2,533.5 1131.1,533.5 1131.9,537.5 1132.8,537.5 1133.7,537.5 1134.6,537.5 1135.5,537.5 1136.3,537.5 1137.2,537.5 1138.1,537.5 1139.0,533.5 1139.9,533.5 1140.7,533.5 1141.6,533.5 1142.5,537.5 1143.4,533.5 1144.2,533.5 1145.1,533.5 1146.0,533.5 1146.9,533.5 1147.8,524.5 1148.6,537.5 1149.5,537.5 1150.4,537.5 1151.3,537.5 1152.2,537.5 1153.0,533.5 1153.9,533.5 1154.8,533.5 1155.7,533.5 1156.5,527.2 1157.4,537.5 1158.3,537.5 1159.2,537.5 1160.1,537.5 1160.9,533.5 1161.8,537.5 1162.7,537.5 1163.6,537.5 1164.5,537.5 1165.3,537.5 1166.2,537.5 1167.1,537.5 1168.0,523.5 1168.8,537.5 1169.7,537.5 1170.6,537.5 1171.5,533.5 1172.4,533.5 1173.2,508.8 1174.1,533.5 1175.0,533.5 1175.9,533.5 1176.7,528.1 1177.6,533.5 1178.5,537.5 1179.4,537.5 1180.3,537.5 1181.1,537.5 1182.0,533.5 1182.9,533.5 1183.8,537.5 1184.7,537.5 1185.5,537.5 1186.4,537.5 1187.3,533.5 1188.2,537.5 1189.0,537.5 1189.9,537.5 1190.8,533.5 1191.7,533.5 1192.6,533.5 1193.4,533.5 1194.3,533.5 1195.2,533.5 1196.1,533.5 1197.0,522.0 1197.8,537.5 1198.7,533.5 1199.6,533.5 1200.5,533.5 1201.3,533.5 1202.2,533.5 1203.1,537.5 1204.0,524.0 1204.9,537.5 1205.7,537.5 1206.6,537.5 1207.5,537.5 1208.4,537.5 1209.3,537.5 1210.1,533.5 1211.0,533.5 1211.9,533.5 1212.8,533.5 1213.6,533.5 1214.5,537.5 1215.4,537.5 1216.3,526.0 1217.2,537.5 1218.0,521.5 1218.9,537.5 1219.8,529.0 1220.7,533.5 1221.6,533.5 1222.4,533.5 1223.3,533.5 1224.2,533.5 1225.1,533.5 1225.9,537.5 1226.8,521.9 1227.7,537.5 1228.6,533.5 1229.5,533.5 1230.3,523.9 1231.2,533.5 1232.1,537.5 1233.0,533.5 1233.9,533.5 1234.7,533.5 1235.6,524.5 1236.5,533.5 1237.4,533.5 1238.2,533.5 1239.1,537.5 1240.0,537.5 1240.9,533.5 1241.8,537.5 1242.6,537.5 1243.5,537.5 1244.4,526.9 1245.3,533.5 1246.1,537.5 1247.0,537.5 1247.9,537.5 1248.8,537.5 1249.7,515.5 1250.5,533.5 1251.4,533.5 1252.3,537.5 1253.2,537.5 1254.1,537.5 1254.9,537.5 1255.8,537.5 1256.7,523.8 1257.6,526.8 1258.4,533.5 1259.3,537.5 1260.2,537.5 1261.1,537.5 1262.0,537.5 1262.8,537.5 1263.7,537.5 1264.6,537.5 1265.5,533.5 1266.4,526.8 1267.2,537.5 1268.1,537.5 1269.0,537.5 1269.9,537.5 1270.7,537.5 1271.6,533.5 1272.5,533.5 1273.4,533.5 1274.3,537.5 1275.1,537.5 1276.0,537.5 1276.9,537.5 1277.8,537.5 1278.7,533.5 1279.5,533.5 1280.4,533.5 1281.3,533.5 1282.2,533.5 1283.0,537.5 1283.9,537.5 1284.8,537.5 1285.7,537.5 1286.6,537.5 1287.4,537.5 1288.3,537.5 1289.2,533.5 1290.1,533.5 1291.0,533.5 1291.8,533.5 1292.7,533.5 1293.6,533.5 1294.5,533.5 1295.3,537.5 1296.2,537.5 1297.1,537.5 1298.0,523.5 1298.9,533.5 1299.7,537.5 1300.6,533.5 1301.5,533.5 1302.4,525.7 1303.2,533.5 1304.1,533.5 1305.0,537.5 1305.9,537.5 1306.8,537.5 1307.6,537.5 1308.5,537.5 1309.4,537.5 1310.3,537.5 1311.2,537.5 1312.0,533.5 1312.9,533.5 1313.8,533.5 1314.7,533.5 1315.5,533.5 1316.4,533.5 1317.3,533.5 1318.2,533.5 1319.1,537.5 1319.9,537.5 1320.8,537.5 1321.7,537.5 1322.6,537.5 1323.5,537.5 1324.3,524.5 1325.2,533.5 1326.1,533.5 1327.0,537.5 1327.8,537.5 1328.7,537.5 1329.6,537.5 1330.5,537.5 1331.4,533.5 1332.2,527.6 1333.1,537.5 1334.0,533.5 1334.9,533.5 1335.8,533.5 1336.6,537.5 1337.5,537.5 1338.4,511.5 1339.3,537.5 1340.1,537.5 1341.0,537.5 1341.9,533.5 1342.8,533.5 1343.7,533.5 1344.5,533.5 1345.4,537.5 1346.3,537.5 1347.2,515.5 1348.1,537.5 1348.9,524.5 1349.8,533.5 1350.7,533.5 1351.6,533.5 1352.4,537.5 1353.3,537.5 1354.2,537.5 1355.1,537.5 1356.0,537.5 1356.8,537.5 1357.7,533.5 1358.6,533.5 1359.5,533.5 1360.4,533.5 1361.2,533.5 1362.1,537.5 1363.0,537.5 1363.9,537.5 1364.7,537.5 1365.6,537.5 101.0,535.5 101.9,535.5 102.8,535.5 103.6,537.5 104.5,537.5 105.4,537.5 106.3,537.5 107.1,535.5 108.0,531.5 108.9,535.5 109.8,535.5 110.7,537.5 111.5,537.5 112.4,537.5 113.3,535.5 114.2,535.5 115.1,535.5 115.9,537.5 116.8,535.5 117.7,537.5 118.6,537.5 119.4,537.5 120.3,535.4 121.2,535.4 122.1,524.5 123.0,535.4 123.8,527.4 124.7,535.4 125.6,537.5 126.5,537.5 127.4,537.5 128.2,537.5 129.1,521.5 130.0,537.5 130.9,537.5 131.7,537.5 132.6,535.4 133.5,535.4 134.4,535.4 135.3,535.4 136.1,535.4 137.0,535.4 137.9,537.5 138.8,537.5 139.7,537.5 140.5,537.5 141.4,537.5 142.3,535.4 143.2,535.4 144.0,535.4 144.9,535.4 145.8,537.5 146.7,537.5 147.6,537.5 148.4,523.5 149.3,537.5"/>
<line x1="101" y1="534.5" x2="1366" y2="530.5" stroke="#0080ff" stroke-width="1"/>
<polyline fill="none" stroke="#0080ff" stroke-width="1" points="206.9,532.2 207.8,534.5 208.7,531.2 209.6,534.5 210.4,536.5 211.3,536.5 212.2,536.5 213.1,536.5 213.9,536.5 214.8,532.1 215.7,536.5 216.6,536.5 217.5,536.5 218.3,534.5 219.2,534.5 220.1,534.5 221.0,534.5 221.9,534.1 222.7,532.1 223.6,534.1 224.5,534.1 225.4,534.1 226.2,534.1 227.1,534.1 228.0,534.1 228.9,534.1 229.8,534.1 230.6,532.1 231.5,517.5 232.4,534.1 233.3,534.1 234.1,534.1 235.0,534.1 235.9,534.1 236.8,534.1 237.7,534.1 238.5,532.1 239.4,534.5 240.3,534.5 241.2,534.5 242.1,534.5 242.9,534.5 243.8,534.0 244.7,534.0 245.6,524.0 246.4,532.0 247.3,534.0 248.2,536.5 249.1,536.5 250.0,534.5 250.8,534.5 251.7,534.5 252.6,534.5 253.5,534.5 254.4,532.0 255.2,534.5 256.1,534.5 257.0,534.0 257.9,534.0 258.7,534.0 259.6,534.0 260.5,534.0 261.4,534.0 262.3,532.0 263.1,534.0 264.0,534.0 264.9,534.0 265.8,534.0 266.7,534.5 267.5,534.5 268.4,534.5 269.3,536.5 270.2,532.0 271.0,536.5 271.9,536.5 272.8,536.5 273.7,534.5 274.6,534.5 275.4,534.5 276.3,534.5 277.2,534.5 278.1,531.9 279.0,536.5 279.8,536.5 280.7,536.5 281.6,536.5 282.5,534.5 283.3,534.5 284.2,534.5 285.1,534.5 286.0,531.9 286.9,536.5 287.7,536.5 288.6,534.5 289.5,534.5 290.4,534.5 291.3,534.5 292.1,522.5 293.0,534.5 293.9,531.9 294.8,534.5 295.6,530.9 296.5,534.5 297.4,534.5 298.3,534.5 299.2,534.5 300.0,534.5 300.9,534.5 301.8,531.9 302.7,534.5 303.5,534.5 304.4,534.5 305.3,534.5 306.2,534.5 307.1,534.5 307.9,534.5 308.8,534.5 309.7,531.8 310.6,533.8 311.5,533.8 312.3,533.8 313.2,533.8 314.1,533.8 315.0,533.8 315.8,533.8 316.7,533.8 317.6,531.8 318.5,533.8 319.4,533.8 320.2,533.8 321.1,536.5 322.0,536.5 322.9,529.8 323.8,534.5 324.6,534.5 325.5,531.8 326.4,534.5 327.3,534.5 328.1,534.5 329.0,523.5 329.9,523.8 330.8,534.5 331.7,534.5 332.5,534.5 333.4,531.8 334.3,534.5 335.2,533.8 336.1,533.8 336.9,534.5 337.8,534.5 338.7,533.7 339.6,533.7 340.4,533.7 341.3,531.7 342.2,534.5 343.1,534.5 344.0,534.5 344.8,534.5 345.7,534.5 346.6,534.5 347.5,534.5 348.4,534.5 349.2,531.7 350.1,529.7 351.0,533.7 351.9,523.7 352.7,533.7 353.6,530.7 354.5,533.7 355.4,536.5 356.3,536.5 357.1,531.7 358.0,536.5 358.9,533.7 359.8,533.7 360.6,533.7 361.5,533.7 362.4,533.7 363.3,534.5 364.2,534.5 365.0,531.7 365.9,534.5 366.8,533.7 367.7,533.7 368.6,528.7 369.4,533.7 370.3,533.6 371.2,527.6 372.1,533.6 372.9,531.6 373.8,531.6 374.7,534.5 375.6,534.5 376.5,534.5 377.3,534.5 378.2,534.5 379.1,534.5 380.0,534.5 380.9,531.6 381.7,534.5 382.6,534.5 383.5,536.5 384.4,536.5 385.2,523.6 386.1,536.5 387.0,536.5 387.9,536.5 388.8,531.6 389.6,533.6 390.5,533.6 391.4,533.6 392.3,533.6 393.2,533.6 394.0,534.5 394.9,534.5 395.8,534.5 396.7,531.6 397.5,534.5 398.4,533.6 399.3,533.6 400.2,533.6 401.1,533.6 401.9,533.5 402.8,533.5 403.7,533.5 404.6,531.5 405.5,528.5 406.3,533.5 407.2,533.5 408.1,536.5 409.0,536.5 409.8,536.5 410.7,536.5 411.6,536.5 412.5,531.5 413.4,533.5 414.2,533.5 415.1,534.5 416.0,534.5 416.9,534.5 417.8,534.5 418.6,534.5 419.5,534.5 420.4,531.5 421.3,534.5 422.1,534.5 423.0,534.5 423.9,534.5 424.8,534.5 425.7,534.5 426.5,534.5 427.4,534.5 428.3,531.5 429.2,533.5 430.0,533.5 430.9,533.5 431.8,533.5 432.7,533.5 433.6,533.5 434.4,535.5 435.3,535.5 436.2,531.4 437.1,535.5 438.0,535.5 438.8,535.5 439.7,535.5 440.6,535.5 441.5,535.5 442.3,535.5 443.2,535.5 444.1,531.4 445.0,534.5 445.9,534.5 446.7,525.4 447.6,534.5 448.5,534.5 449.4,533.5 450.3,533.5 451.1,534.5 452.0,531.4 452.9,534.5 453.8,534.5 454.6,534.5 455.5,533.5 456.4,533.5 457.3,533.5 458.2,533.5 459.0,533.5 459.9,531.4 460.8,535.5 461.7,534.5 462.6,534.5 463.4,534.5 464.3,535.5 465.2,523.3 466.1,535.5 466.9,534.5 467.8,531.3 468.7,534.5 469.6,534.5 470.5,533.5 471.3,525.3 472.2,533.5 473.1,528.3 474.0,535.5 474.9,535.5 475.7,531.3 476.6,535.5 477.5,535.5 478.4,534.5 479.2,534.5 480.1,534.5 481.0,525.3 481.9,534.5 482.8,534.5 483.6,531.3 484.5,534.5 485.4,535.5 486.3,535.5 487.1,535.5 488.0,534.5 488.9,534.5 489.8,534.5 490.7,527.3 491.5,531.3 492.4,534.5 493.3,534.5 494.2,534.5 495.1,534.5 495.9,534.5 496.8,534.5 497.7,533.5 498.6,533.5 499.4,531.2 500.3,534.5 501.2,534.5 502.1,529.2 503.0,534.5 503.8,534.5 504.7,533.5 505.6,533.5 506.5,533.5 507.4,531.2 508.2,533.5 509.1,534.5 510.0,534.5 510.9,534.5 511.7,534.5 512.6,535.5 513.5,535.5 514.4,530.2 515.3,531.2 516.1,534.5 517.0,535.5 517.9,535.5 518.8,535.5 519.7,535.5 520.5,535.5 521.4,535.5 522.3,528.2 523.2,531.2 524.0,535.5 524.9,525.2 525.8,533.5 526.7,533.5 527.6,533.5 528.4,533.5 529.3,535.5 530.2,535.5 531.1,514.5 532.0,533.5 532.8,533.5 533.7,531.1 534.6,533.5 535.5,534.5 536.3,534.5 537.2,523.1 538.1,534.5 539.0,531.1 539.9,534.5 540.7,534.5 541.6,534.5 542.5,534.5 543.4,528.1 544.3,533.5 545.1,533.5 546.0,533.5 546.9,531.1 547.8,535.5 548.6,535.5 549.5,535.5 550.4,533.5 551.3,533.5 552.2,533.5 553.0,533.5 553.9,533.5 554.8,531.1 555.7,530.1 556.5,535.5 557.4,535.5 558.3,535.5 559.2,535.5 560.1,533.5 560.9,533.5 561.8,533.5 562.7,531.0 563.6,533.5 564.5,533.5 565.3,533.5 566.2,533.5 567.1,533.5 568.0,533.5 568.8,527.0 569.7,525.0 570.6,531.0 571.5,535.5 572.4,535.5 573.2,535.5 574.1,535.5 575.0,534.5 575.9,534.5 576.8,534.5 577.6,533.5 578.5,531.0 579.4,529.0 580.3,534.5 581.1,534.5 582.0,533.5 582.9,533.5 583.8,528.0 584.7,533.5 585.5,534.5 586.4,531.0 587.3,533.5 588.2,533.5 589.1,533.5 589.9,533.5 590.8,533.5 591.7,533.5 592.6,526.9 593.4,534.5 594.3,530.9 595.2,534.5 596.1,534.5 597.0,534.5 597.8,534.5 598.7,533.5 599.6,533.5 600.5,523.5 601.4,533.5 602.2,530.9 603.1,533.5 604.0,533.5 604.9,524.9 605.7,533.5 606.6,533.5 607.5,534.5 608.4,515.5 609.3,525.5 610.1,530.9 611.0,534.5 611.9,534.5 612.8,534.5 613.6,534.5 614.5,534.5 615.4,534.5 616.3,534.5 617.2,534.5 618.0,530.9 618.9,535.5 619.8,535.5 620.7,534.5 621.6,534.5 622.4,534.5 623.3,534.5 624.2,534.5 625.1,534.5 625.9,530.8 626.8,534.5 627.7,534.5 628.6,534.5 629.5,533.5 630.3,533.5 631.2,533.5 632.1,533.5 633.0,533.5 633.9,530.8 634.7,533.5 635.6,533.5 636.5,526.5 637.4,524.8 638.2,533.5 639.1,533.5 640.0,535.5 640.9,535.5 641.8,530.8 642.6,533.5 643.5,533.5 644.4,533.5 645.3,533.5 646.2,533.5 647.0,534.5 647.9,534.5 648.8,534.5 649.7,530.8 650.5,534.5 651.4,535.5 652.3,535.5 653.2,535.5 654.1,535.5 654.9,535.5 655.8,534.5 656.7,534.5 657.6,530.7 658.5,535.5 659.3,535.5 660.2,535.5 661.1,528.5 662.0,529.7 662.8,535.5 663.7,535.5 664.6,535.5 665.5,530.7 666.4,535.5 667.2,533.5 668.1,533.5 669.0,527.5 669.9,533.5 670.7,535.5 671.6,535.5 672.5,535.5 673.4,530.7 674.3,533.5 675.1,526.7 676.0,533.5 676.9,533.5 677.8,534.5 678.7,534.5 679.5,534.5 680.4,534.5 681.3,530.7 682.2,534.5 683.0,534.5 683.9,534.5 684.8,534.5 685.7,534.5 686.6,534.5 687.4,534.5 688.3,533.5 689.2,530.6 690.1,529.6 691.0,534.5 691.8,534.5 692.7,534.5 693.6,534.5 694.5,524.6 695.3,534.5 696.2,534.5 697.1,530.6 698.0,534.5 698.9,534.5 699.7,534.5 700.6,534.5 701.5,535.5 702.4,535.5 703.3,535.5 704.1,535.5 705.0,530.6 705.9,535.5 706.8,533.5 707.6,533.5 708.5,533.5 709.4,535.5 710.3,535.5 711.2,535.5 712.0,535.5 712.9,530.6 713.8,535.5 714.7,535.5 715.6,535.5 716.4,535.5 717.3,535.5 718.2,533.5 719.1,533.5 719.9,534.5 720.8,530.5 721.7,534.5 722.6,534.5 723.5,534.5 724.3,524.5 725.2,526.5 726.1,533.5 727.0,535.5 727.9,535.5 728.7,530.5 729.6,535.5 730.5,535.5 731.4,535.5 732.2,535.5 733.1,535.5 734.0,535.5 734.9,535.5 735.8,535.5 736.6,530.5 737.5,534.5 738.4,534.5 739.3,534.5 740.1,534.5 741.0,534.5 741.9,534.5 742.8,534.5 743.7,534.5 744.5,530.5 745.4,534.5 746.3,533.5 747.2,533.5 748.1,533.5 748.9,533.5 749.8,534.5 750.7,527.5 751.6,534.5 752.4,530.4 753.3,534.5 754.2,534.5 755.1,534.5 756.0,534.5 756.8,534.5 757.7,534.5 758.6,534.5 759.5,534.5 760.4,530.4 761.2,533.5 762.1,533.5 763.0,534.5 763.9,534.5 764.7,534.5 765.6,534.5 766.5,529.4 767.4,534.5 768.3,530.4 769.1,534.5 770.0,534.5 770.9,534.5 771.8,534.5 772.7,533.5 773.5,533.5 774.4,533.5 775.3,533.5 776.2,530.4 777.0,533.5 777.9,533.5 778.8,533.5 779.7,533.5 780.6,534.5 781.4,524.3 782.3,534.5 783.2,534.5 784.1,530.3 785.0,534.5 785.8,534.5 786.7,534.5 787.6,534.5 788.5,533.5 789.3,533.5 790.2,533.5 791.1,533.5 792.0,530.3 792.9,534.5 793.7,534.5 794.6,534.5 795.5,534.5 796.4,534.5 797.2,534.5 798.1,533.5 799.0,533.5 799.9,530.3 800.8,533.5 801.6,533.5 802.5,533.5 803.4,534.5 804.3,534.5 805.2,534.5 806.0,534.5 806.9,534.5 807.8,530.3 808.7,522.3 809.5,533.5 810.4,533.5 811.3,533.5 812.2,533.5 813.1,533.5 813.9,534.5 814.8,534.5 815.7,530.2 816.6,533.5 817.5,533.5 818.3,533.5 819.2,533.5 820.1,534.5 821.0,526.2 821.8,534.5 822.7,534.5 823.6,530.2 824.5,534.5 825.4,533.5 826.2,533.5 827.1,533.5 828.0,533.5 828.9,533.5 829.8,533.5 830.6,533.5 831.5,530.2 832.4,534.5 833.3,534.5 834.1,526.2 835.0,533.5 835.9,533.5 836.8,533.5 837.7,533.5 838.5,533.5 839.4,530.2 840.3,534.5 841.2,534.5 842.1,534.5 842.9,530.2 843.8,528.2 844.7,533.5 845.6,533.5 846.4,533.5 847.3,530.1 848.2,533.5 849.1,534.5 850.0,534.5 850.8,534.5 851.7,534.5 852.6,534.5 853.5,534.5 854.4,533.5 855.2,530.1 856.1,533.5 857.0,533.5 857.9,533.5 858.7,528.1 859.6,533.5 860.5,533.5 861.4,534.5 862.3,534.5 863.1,530.1 864.0,534.5 864.9,533.5 865.8,533.5 866.6,533.5 867.5,533.5 868.4,533.5 869.3,533.5 870.2,533.5 871.0,530.1 871.9,533.5 872.8,533.5 873.7,534.5 874.6,534.5 875.4,534.5 876.3,534.5 877.2,534.5 878.1,534.5 878.9,530.0 879.8,534.5 880.7,534.5 881.6,534.5 882.5,534.5 883.3,533.5 884.2,533.5 885.1,528.0 886.0,533.5 886.9,530.0 887.7,533.5 888.6,533.5 889.5,526.0 890.4,533.5 891.2,533.5 892.1,533.5 893.0,534.5 893.9,534.5 894.8,530.0 895.6,526.0 896.5,534.5 897.4,534.5 898.3,534.5 899.2,534.5 900.0,534.5 900.9,534.5 901.8,533.5 902.7,530.0 903.5,533.5 904.4,534.5 905.3,534.5 906.2,534.5 907.1,534.5 907.9,534.5 908.8,534.5 909.7,534.5 910.6,529.9 911.5,534.5 912.3,534.5 913.2,534.5 914.1,534.5 915.0,534.5 915.8,534.5 916.7,534.5 917.6,534.5 918.5,529.9 919.4,534.5 920.2,534.5 921.1,533.5 922.0,533.5 922.9,533.5 923.7,534.5 924.6,522.5 925.5,534.5 926.4,529.9 927.3,534.5 928.1,534.5 929.0,534.5 929.9,534.5 930.8,534.5 931.7,534.5 932.5,525.5 933.4,534.5 934.3,529.9 935.2,534.5 936.0,534.5 936.9,534.5 937.8,534.5 938.7,529.9 939.6,534.5 940.4,534.5 941.3,527.8 942.2,529.8 943.1,533.5 944.0,534.5 944.8,534.5 945.7,534.5 946.6,534.5 947.5,534.5 948.3,534.5 949.2,533.5 950.1,529.8 951.0,533.5 951.9,534.5 952.7,534.5 953.6,534.5 954.5,534.5 955.4,534.5 956.3,534.5 957.1,534.5 958.0,529.8 958.9,534.5 959.8,534.5 960.6,534.5 961.5,534.5 962.4,533.5 963.3,533.5 964.2,533.5 965.0,533.5 965.9,529.8 966.8,534.5 967.7,534.5 968.6,534.5 969.4,525.8 970.3,534.5 971.2,534.5 972.1,534.5 972.9,534.5 973.8,529.7 974.7,534.5 975.6,534.5 976.5,534.5 977.3,534.5 978.2,534.5 979.1,533.5 980.0,533.5 980.9,533.5 981.7,529.7 982.6,533.5 983.5,534.5 984.4,534.5 985.2,534.5 986.1,534.5 987.0,534.5 987.9,534.5 988.8,533.5 989.6,529.7 990.5,533.5 991.4,533.5 992.3,533.5 993.1,533.5 994.0,533.5 994.9,533.5 995.8,533.5 996.7,533.5 997.5,529.7 998.4,521.7 999.3,534.5 1000.2,534.5 1001.1,533.5 1001.9,529.7 1002.8,533.5 1003.7,533.5 1004.6,533.5 1005.4,529.6 1006.3,534.5 1007.2,534.5 1008.1,534.5 1009.0,534.5 1009.8,534.5 1010.7,533.5 1011.6,533.5 1012.5,533.5 1013.4,529.6 1014.2,533.5 1015.1,533.5 1016.0,533.5 1016.9,533.5 1017.7,528.6 1018.6,533.5 1019.5,533.5 1020.4,533.5 1021.3,529.6 1022.1,533.5 1023.0,533.5 1023.9,533.5 1024.8,534.5 1025.7,534.5 1026.5,534.5 1027.4,534.5 1028.3,534.5 1029.2,529.6 1030.0,534.5 1030.9,534.5 1031.8,534.5 1032.7,534.5 1033.6,528.6 1034.4,533.5 1035.3,533.5 1036.2,533.5 1037.1,529.5 1038.0,533.5 1038.8,533.5 1039.7,533.5 1040.6,533.5 1041.5,533.5 1042.3,533.5 1043.2,534.5 1044.1,534.5 1045.0,529.5 1045.9,525.5 1046.7,534.5 1047.6,534.5 1048.5,534.5 1049.4,534.5 1050.2,534.5 1051.1,534.5 1052.0,534.5 1052.9,529.5 1053.8,533.5 1054.6,533.5 1055.5,533.5 1056.4,533.5 1057.3,533.5 1058.2,533.5 1059.0,523.5 1059.9,533.5 1060.8,529.5 1061.7,533.5 1062.5,533.5 1063.4,534.5 1064.3,534.5 1065.2,534.5 1066.1,522.5 1066.9,534.5 1067.8,533.5 1068.7,529.4 1069.6,533.5 1070.5,533.5 1071.3,533.5 1072.2,533.5 1073.1,533.5 1074.0,526.4 1074.8,534.5 1075.7,534.5 1076.6,529.4 1077.5,534.5 1078.4,534.5 1079.2,534.5 1080.1,533.5 1081.0,533.5 1081.9,534.5 1082.8,534.5 1083.6,534.5 1084.5,529.4 1085.4,534.5 1086.3,525.4 1087.1,534.5 1088.0,534.5 1088.9,534.5 1089.8,534.5 1090.7,534.5 1091.5,534.5 1092.4,529.4 1093.3,534.5 1094.2,534.5 1095.1,534.5 1095.9,528.4 1096.8,533.5 1097.7,533.5 1098.6,533.5 1099.4,533.5 1100.3,529.3 1101.2,533.5 1102.1,533.5 1103.0,533.5 1103.8,533.5 1104.7,534.5 1105.6,534.5 1106.5,533.5 1107.4,533.5 1108.2,529.3 1109.1,533.5 1110.0,534.5 1110.9,534.5 1111.7,534.5 1112.6,534.5 1113.5,534.5 1114.4,534.5 1115.3,534.5 1116.1,529.3 1117.0,534.5 1117.9,534.5 1118.8,534.5 1119.6,534.5 1120.5,534.5 1121.4,521.3 1122.3,527.3 1123.2,534.5 1124.0,529.3 1124.9,533.5 1125.8,533.5 1126.7,533.5 1127.6,533.5 1128.4,533.5 1129.3,533.5 1130.2,533.5 1131.1,533.5 1131.9,529.2 1132.8,533.5 1133.7,533.5 1134.6,533.5 1135.5,533.5 1136.3,533.5 1137.2,533.5 1138.1,533.5 1139.0,533.5 1139.9,529.2 1140.7,533.5 1141.6,533.5 1142.5,534.5 1143.4,534.5 1144.2,534.5 1145.1,533.5 1146.0,533.5 1146.9,533.5 1147.8,529.2 1148.6,533.5 1149.5,533.5 1150.4,534.5 1151.3,534.5 1152.2,533.5 1153.0,533.5 1153.9,533.5 1154.8,533.5 1155.7,529.2 1156.5,534.5 1157.4,533.5 1158.3,533.5 1159.2,525.2 1160.1,533.5 1160.9,533.5 1161.8,533.5 1162.7,533.5 1163.6,529.1 1164.5,533.5 1165.3,534.5 1166.2,534.5 1167.1,534.5 1168.0,534.5 1168.8,534.5 1169.7,534.5 1170.6,533.5 1171.5,529.1 1172.4,533.5 1173.2,533.5 1174.1,533.5 1175.0,533.5 1175.9,527.1 1176.7,533.5 1177.6,533.5 1178.5,533.5 1179.4,529.1 1180.3,533.5 1181.1,533.5 1182.0,533.5 1182.9,533.5 1183.8,533.5 1184.7,533.5 1185.5,533.5 1186.4,533.5 1187.3,529.1 1188.2,533.5 1189.0,533.5 1189.9,533.5 1190.8,533.5 1191.7,533.5 1192.6,533.5 1193.4,527.0 1194.3,533.5 1195.2,529.0 1196.1,524.5 1197.0,533.5 1197.8,533.5 1198.7,533.5 1199.6,533.5 1200.5,533.5 1201.3,533.5 1202.2,534.5 1203.1,529.0 1204.0,534.5 1204.9,534.5 1205.7,534.5 1206.6,534.5 1207.5,533.5 1208.4,533.5 1209.3,533.5 1210.1,533.5 1211.0,529.0 1211.9,534.5 1212.8,534.5 1213.6,534.5 1214.5,534.5 1215.4,534.5 1216.3,533.5 1217.2,533.5 1218.0,533.5 1218.9,529.0 1219.8,533.5 1220.7,533.5 1221.6,534.5 1222.4,525.0 1223.3,534.5 1224.2,534.5 1225.1,534.5 1225.9,533.5 1226.8,528.9 1227.7,533.5 1228.6,533.5 1229.5,533.5 1230.3,520.9 1231.2,533.5 1232.1,533.5 1233.0,533.5 1233.9,522.9 1234.7,528.9 1235.6,534.5 1236.5,534.5 1237.4,534.5 1238.2,534.5 1239.1,534.5 1240.0,534.5 1240.9,534.5 1241.8,534.5 1242.6,528.9 1243.5,534.5 1244.4,534.5 1245.3,533.5 1246.1,533.5 1247.0,533.5 1247.9,533.5 1248.8,533.5 1249.7,533.5 1250.5,528.9 1251.4,533.5 1252.3,533.5 1253.2,533.5 1254.1,533.5 1254.9,533.5 1255.8,524.8 1256.7,533.5 1257.6,533.5 1258.4,528.8 1259.3,534.5 1260.2,534.5 1261.1,534.5 1262.0,525.8 1262.8,534.5 1263.7,534.5 1264.6,534.5 1265.5,534.5 1266.4,528.8 1267.2,533.5 1268.1,533.5 1269.0,533.5 1269.9,533.5 1270.7,534.5 1271.6,534.5 1272.5,534.5 1273.4,534.5 1274.3,528.8 1275.1,533.5 1276.0,533.5 1276.9,533.5 1277.8,533.5 1278.7,534.5 1279.5,525.8 1280.4,534.5 1281.3,534.5 1282.2,528.8 1283.0,533.5 1283.9,533.5 1284.8,533.5 1285.7,522.5 1286.6,533.5 1287.4,533.5 1288.3,533.5 1289.2,533.5 1290.1,528.7 1291.0,533.5 1291.8,533.5 1292.7,533.5 1293.6,527.7 1294.5,533.5 1295.3,533.5 1296.2,534.5 1297.1,534.5 1298.0,528.7 1298.9,534.5 1299.7,534.5 1300.6,533.5 1301.5,533.5 1302.4,533.5 1303.2,533.5 1304.1,533.5 1305.0,533.5 1305.9,528.7 1306.8,534.5 1307.6,534.5 1308.5,534.5 1309.4,525.7 1310.3,533.5 1311.2,533.5 1312.0,534.5 1312.9,534.5 1313.8,528.7 1314.7,534.5 1315.5,534.5 1316.4,534.5 1317.3,533.5 1318.2,533.5 1319.1,533.5 1319.9,533.5 1320.8,533.5 1321.7,528.6 1322.6,533.5 1323.5,533.5 1324.3,533.5 1325.2,533.5 1326.1,533.5 1327.0,533.5 1327.8,533.5 1328.7,533.5 1329.6,528.6 1330.5,525.5 1331.4,525.6 1332.2,533.5 1333.1,533.5 1334.0,526.6 1334.9,533.5 1335.8,533.5 1336.6,533.5 1337.5,528.6 1338.4,520.6 1339.3,533.5 1340.1,533.5 1341.0,533.5 1341.9,533.5 1342.8,528.6 1343.7,533.5 1344.5,534.5 1345.4,528.6 1346.3,534.5 1347.2,534.5 1348.1,534.5 1348.9,534.5 1349.8,533.5 1350.7,533.5 1351.6,533.5 1352.4,533.5 1353.3,528.5 1354.2,533.5 1355.1,533.5 1356.0,533.5 1356.8,533.5 1357.7,533.5 1358.6,533.5 1359.5,533.5 1360.4,533.5 1361.2,528.5 1362.1,534.5 1363.0,534.5 1363.9,534.5 1364.7,534.5 1365.6,534.5 101.0,532.5 101.9,534.5 102.8,534.5 103.6,534.5 104.5,534.5 105.4,534.5 106.3,534.5 107.1,534.5 108.0,524.5 108.9,532.5 109.8,534.5 110.7,528.5 111.5,534.5 112.4,534.5 113.3,534.5 114.2,536.5 115.1,536.5 115.9,536.5 116.8,532.5 117.7,536.5 118.6,534.5 119.4,534.5 120.3,534.5 121.2,534.5 122.1,534.5 123.0,534.5 123.8,534.5 124.7,532.4 125.6,534.5 126.5,534.5 127.4,534.5 128.2,534.5 129.1,534.5 130.0,534.5 130.9,534.5 131.7,534.4 132.6,532.4 133.5,531.4 134.4,536.5 135.3,536.5 136.1,536.5 137.0,536.5 137.9,532.4 138.8,534.4 139.7,534.4 140.5,532.4 141.4,532.4 142.3,534.4 143.2,530.4 144.0,534.4 144.9,534.4 145.8,534.4 146.7,534.4 147.6,534.4 148.4,532.4 149.3,534.3"/>
</g>
<path d="M101.0 514.3L106.2 514.3L108.6 516.7L108.6 521.9L106.2 524.3L101.0 524.3L98.6 521.9L98.6 516.7Z" fill="none" stroke="#c04000" stroke-width="1.25"/><path d="M103.6 513.0v1.6M103.6 524.0v1.6M97.3 519.3h1.6M108.3 519.3h1.6" stroke="#c04000" stroke-width="1.2"/>
<path d="M146.8 514.3L152.0 514.3L154.4 516.7L154.4 521.9L152.0 524.3L146.8 524.3L144.4 521.9L144.4 516.7Z" fill="none" stroke="#c04000" stroke-width="1.25"/><path d="M149.4 513.0v1.6M149.4 524.0v1.6M143.1 519.3h1.6M154.1 519.3h1.6" stroke="#c04000" stroke-width="1.2"/>
<path d="M205.7 514.3L210.9 514.3L213.3 516.7L213.3 521.9L210.9 524.3L205.7 524.3L203.3 521.9L203.3 516.7Z" fill="none" stroke="#c04000" stroke-width="1.25"/><path d="M208.3 513.0v1.6M208.3 524.0v1.6M202.0 519.3h1.6M213.0 519.3h1.6" stroke="#c04000" stroke-width="1.2"/>
<path d="M252.4 514.3L257.6 514.3L260.0 516.7L260.0 521.9L257.6 524.3L252.4 524.3L250.0 521.9L250.0 516.7Z" fill="none" stroke="#c04000" stroke-width="1.25"/><path d="M255.0 513.0v1.6M255.0 524.0v1.6M248.7 519.3h1.6M259.7 519.3h1.6" stroke="#c04000" stroke-width="1.2"/>
<path d="M258.8 513.0L264.0 513.0L266.4 515.4L266.4 520.6L264.0 523.0L258.8 523.0L256.4 520.6L256.4 515.4Z" fill="none" stroke="#c04000" stroke-width="1.25"/><path d="M261.4 511.7v1.6M261.4 522.7v1.6M255.1 518.0h1.6M266.1 518.0h1.6" stroke="#c04000" stroke-width="1.2"/>
<path d="M305.3 514.3L310.5 514.3L312.9 516.7L312.9 521.9L310.5 524.3L305.3 524.3L302.9 521.9L302.9 516.7Z" fill="none" stroke="#c04000" stroke-width="1.25"/><path d="M307.9 513.0v1.6M307.9 524.0v1.6M301.6 519.3h1.6M312.6 519.3h1.6" stroke="#c04000" stroke-width="1.2"/>
<path d="M311.7 514.3L316.9 514.3L319.3 516.7L319.3 521.9L316.9 524.3L311.7 524.3L309.3 521.9L309.3 516.7Z" fill="none" stroke="#c04000" stroke-width="1.25"/><path d="M314.3 513.0v1.6M314.3 524.0v1.6M308.0 519.3h1.6M319.0 519.3h1.6" stroke="#c04000" stroke-width="1.2"/>
<path d="M357.8 514.3L363.0 514.3L365.4 516.7L365.4 521.9L363.0 524.3L357.8 524.3L355.4 521.9L355.4 516.7Z" fill="none" stroke="#c04000" stroke-width="1.25"/><path d="M360.4 513.0v1.6M360.4 524.0v1.6M354.1 519.3h1.6M365.1 519.3h1.6" stroke="#c04000" stroke-width="1.2"/>
<path d="M363.8 500.4L369.0 500.4L371.4 502.8L371.4 508.0L369.0 510.4L363.8 510.4L361.4 508.0L361.4 502.8Z" fill="none" stroke="#c04000" stroke-width="1.25"/><path d="M366.4 499.1v1.6M366.4 510.1v1.6M360.1 505.4h1.6M371.1 505.4h1.6" stroke="#c04000" stroke-width="1.2"/>
<path d="M410.5 513.3L415.7 513.3L418.1 515.7L418.1 520.9L415.7 523.3L410.5 523.3L408.1 520.9L408.1 515.7Z" fill="none" stroke="#c04000" stroke-width="1.25"/><path d="M413.1 512.0v1.6M413.1 523.0v1.6M406.8 518.3h1.6M417.8 518.3h1.6" stroke="#c04000" stroke-width="1.2"/>
<path d="M416.7 511.4L421.9 511.4L424.3 513.8L424.3 519.0L421.9 521.4L416.7 521.4L414.3 519.0L414.3 513.8Z" fill="none" stroke="#c04000" stroke-width="1.25"/><path d="M419.3 510.1v1.6M419.3 521.1v1.6M413.0 516.4h1.6M424.0 516.4h1.6" stroke="#c04000" stroke-width="1.2"/>
<path d="M463.8 514.3L469.0 514.3L471.4 516.7L471.4 521.9L469.0 524.3L463.8 524.3L461.4 521.9L461.4 516.7Z" fill="none" stroke="#c04000" stroke-width="1.25"/><path d="M466.4 513.0v1.6M466.4 524.0v1.6M460.1 519.3h1.6M471.1 519.3h1.6" stroke="#c04000" stroke-width="1.2"/>
<path d="M470.0 515.4L475.2 515.4L477.6 517.8L477.6 523.0L475.2 525.4L470.0 525.4L467.6 523.0L467.6 517.8Z" fill="none" stroke="#c04000" stroke-width="1.25"/><path d="M472.6 514.1v1.6M472.6 525.1v1.6M466.3 520.4h1.6M477.3 520.4h1.6" stroke="#c04000" stroke-width="1.2"/>
<path d="M515.5 513.6L520.7 513.6L523.1 516.0L523.1 521.2L520.7 523.6L515.5 523.6L513.1 521.2L513.1 516.0Z" fill="none" stroke="#c04000" stroke-width="1.25"/><path d="M518.1 512.3v1.6M518.1 523.3v1.6M511.8 518.6h1.6M522.8 518.6h1.6" stroke="#c04000" stroke-width="1.2"/>
<path d="M522.1 516.4L527.3 516.4L529.7 518.8L529.7 524.0L527.3 526.4L522.1 526.4L519.7 524.0L519.7 518.8Z" fill="none" stroke="#c04000" stroke-width="1.25"/><path d="M524.7 515.1v1.6M524.7 526.1v1.6M518.4 521.4h1.6M529.4 521.4h1.6" stroke="#c04000" stroke-width="1.2"/>
<path d="M568.8 512.4L574.0 512.4L576.4 514.8L576.4 520.0L574.0 522.4L568.8 522.4L566.4 520.0L566.4 514.8Z" fill="none" stroke="#c04000" stroke-width="1.25"/><path d="M571.4 511.1v1.6M571.4 522.1v1.6M565.1 517.4h1.6M576.1 517.4h1.6" stroke="#c04000" stroke-width="1.2"/>
<path d="M575.0 514.3L580.2 514.3L582.6 516.7L582.6 521.9L580.2 524.3L575.0 524.3L572.6 521.9L572.6 516.7Z" fill="none" stroke="#c04000" stroke-width="1.25"/><path d="M577.6 513.0v1.6M577.6 524.0v1.6M571.3 519.3h1.6M582.3 519.3h1.6" stroke="#c04000" stroke-width="1.2"/>
<path d="M621.7 514.3L626.9 514.3L629.3 516.7L629.3 521.9L626.9 524.3L621.7 524.3L619.3 521.9L619.3 516.7Z" fill="none" stroke="#c04000" stroke-width="1.25"/><path d="M624.3 513.0v1.6M624.3 524.0v1.6M618.0 519.3h1.6M629.0 519.3h1.6" stroke="#c04000" stroke-width="1.2"/>
<path d="M628.1 516.4L633.3 516.4L635.7 518.8L635.7 524.0L633.3 526.4L628.1 526.4L625.7 524.0L625.7 518.8Z" fill="none" stroke="#c04000" stroke-width="1.25"/><path d="M630.7 515.1v1.6M630.7 526.1v1.6M624.4 521.4h1.6M635.4 521.4h1.6" stroke="#c04000" stroke-width="1.2"/>
<path d="M673.8 507.1L679.0 507.1L681.4 509.5L681.4 514.7L679.0 517.1L673.8 517.1L671.4 514.7L671.4 509.5Z" fill="none" stroke="#c04000" stroke-width="1.25"/><path d="M676.4 505.8v1.6M676.4 516.8v1.6M670.1 512.1h1.6M681.1 512.1h1.6" stroke="#c04000" stroke-width="1.2"/>
<path d="M681.7 514.3L686.9 514.3L689.3 516.7L689.3 521.9L686.9 524.3L681.7 524.3L679.3 521.9L679.3 516.7Z" fill="none" stroke="#c04000" stroke-width="1.25"/><path d="M684.3 513.0v1.6M684.3 524.0v1.6M678.0 519.3h1.6M689.0 519.3h1.6" stroke="#c04000" stroke-width="1.2"/>
<path d="M726.7 512.4L731.9 512.4L734.3 514.8L734.3 520.0L731.9 522.4L726.7 522.4L724.3 520.0L724.3 514.8Z" fill="none" stroke="#c04000" stroke-width="1.25"/><path d="M729.3 511.1v1.6M729.3 522.1v1.6M723.0 517.4h1.6M734.0 517.4h1.6" stroke="#c04000" stroke-width="1.2"/>
<path d="M733.1 513.6L738.3 513.6L740.7 516.0L740.7 521.2L738.3 523.6L733.1 523.6L730.7 521.2L730.7 516.0Z" fill="none" stroke="#c04000" stroke-width="1.25"/><path d="M735.7 512.3v1.6M735.7 523.3v1.6M729.4 518.6h1.6M740.4 518.6h1.6" stroke="#c04000" stroke-width="1.2"/>
<path d="M779.5 507.1L784.7 507.1L787.1 509.5L787.1 514.7L784.7 517.1L779.5 517.1L777.1 514.7L777.1 509.5Z" fill="none" stroke="#c04000" stroke-width="1.25"/><path d="M782.1 505.8v1.6M782.1 516.8v1.6M775.8 512.1h1.6M786.8 512.1h1.6" stroke="#c04000" stroke-width="1.2"/>
<path d="M786.0 511.4L791.2 511.4L793.6 513.8L793.6 519.0L791.2 521.4L786.0 521.4L783.6 519.0L783.6 513.8Z" fill="none" stroke="#c04000" stroke-width="1.25"/><path d="M788.6 510.1v1.6M788.6 521.1v1.6M782.3 516.4h1.6M793.3 516.4h1.6" stroke="#c04000" stroke-width="1.2"/>
<path d="M832.8 514.3L838.0 514.3L840.4 516.7L840.4 521.9L838.0 524.3L832.8 524.3L830.4 521.9L830.4 516.7Z" fill="none" stroke="#c04000" stroke-width="1.25"/><path d="M835.4 513.0v1.6M835.4 524.0v1.6M829.1 519.3h1.6M840.1 519.3h1.6" stroke="#c04000" stroke-width="1.2"/>
<path d="M838.8 504.3L844.0 504.3L846.4 506.7L846.4 511.9L844.0 514.3L838.8 514.3L836.4 511.9L836.4 506.7Z" fill="none" stroke="#c04000" stroke-width="1.25"/><path d="M841.4 503.0v1.6M841.4 514.0v1.6M835.1 509.3h1.6M846.1 509.3h1.6" stroke="#c04000" stroke-width="1.2"/>
<path d="M885.0 503.3L890.2 503.3L892.6 505.7L892.6 510.9L890.2 513.3L885.0 513.3L882.6 510.9L882.6 505.7Z" fill="none" stroke="#c04000" stroke-width="1.25"/><path d="M887.6 502.0v1.6M887.6 513.0v1.6M881.3 508.3h1.6M892.3 508.3h1.6" stroke="#c04000" stroke-width="1.2"/>
<path d="M890.7 514.3L895.9 514.3L898.3 516.7L898.3 521.9L895.9 524.3L890.7 524.3L888.3 521.9L888.3 516.7Z" fill="none" stroke="#c04000" stroke-width="1.25"/><path d="M893.3 513.0v1.6M893.3 524.0v1.6M887.0 519.3h1.6M898.0 519.3h1.6" stroke="#c04000" stroke-width="1.2"/>
<path d="M937.8 471.4L943.0 471.4L945.4 473.8L945.4 479.0L943.0 481.4L937.8 481.4L935.4 479.0L935.4 473.8Z" fill="none" stroke="#c04000" stroke-width="1.25"/><path d="M940.4 470.1v1.6M940.4 481.1v1.6M934.1 476.4h1.6M945.1 476.4h1.6" stroke="#c04000" stroke-width="1.2"/>
<path d="M943.8 512.4L949.0 512.4L951.4 514.8L951.4 520.0L949.0 522.4L943.8 522.4L941.4 520.0L941.4 514.8Z" fill="none" stroke="#c04000" stroke-width="1.25"/><path d="M946.4 511.1v1.6M946.4 522.1v1.6M940.1 517.4h1.6M951.1 517.4h1.6" stroke="#c04000" stroke-width="1.2"/>
<path d="M990.7 511.4L995.9 511.4L998.3 513.8L998.3 519.0L995.9 521.4L990.7 521.4L988.3 519.0L988.3 513.8Z" fill="none" stroke="#c04000" stroke-width="1.25"/><path d="M993.3 510.1v1.6M993.3 521.1v1.6M987.0 516.4h1.6M998.0 516.4h1.6" stroke="#c04000" stroke-width="1.2"/>
<path d="M996.7 472.4L1001.9 472.4L1004.3 474.8L1004.3 480.0L1001.9 482.4L996.7 482.4L994.3 480.0L994.3 474.8Z" fill="none" stroke="#c04000" stroke-width="1.25"/><path d="M999.3 471.1v1.6M999.3 482.1v1.6M993.0 477.4h1.6M1004.0 477.4h1.6" stroke="#c04000" stroke-width="1.2"/>
<path d="M1043.1 513.3L1048.3 513.3L1050.7 515.7L1050.7 520.9L1048.3 523.3L1043.1 523.3L1040.7 520.9L1040.7 515.7Z" fill="none" stroke="#c04000" stroke-width="1.25"/><path d="M1045.7 512.0v1.6M1045.7 523.0v1.6M1039.4 518.3h1.6M1050.4 518.3h1.6" stroke="#c04000" stroke-width="1.2"/>
<path d="M1049.8 473.3L1055.0 473.3L1057.4 475.7L1057.4 480.9L1055.0 483.3L1049.8 483.3L1047.4 480.9L1047.4 475.7Z" fill="none" stroke="#c04000" stroke-width="1.25"/><path d="M1052.4 472.0v1.6M1052.4 483.0v1.6M1046.1 478.3h1.6M1057.1 478.3h1.6" stroke="#c04000" stroke-width="1.2"/>
<path d="M1096.0 512.4L1101.2 512.4L1103.6 514.8L1103.6 520.0L1101.2 522.4L1096.0 522.4L1093.6 520.0L1093.6 514.8Z" fill="none" stroke="#c04000" stroke-width="1.25"/><path d="M1098.6 511.1v1.6M1098.6 522.1v1.6M1092.3 517.4h1.6M1103.3 517.4h1.6" stroke="#c04000" stroke-width="1.2"/>
<path d="M1101.7 494.3L1106.9 494.3L1109.3 496.7L1109.3 501.9L1106.9 504.3L1101.7 504.3L1099.3 501.9L1099.3 496.7Z" fill="none" stroke="#c04000" stroke-width="1.25"/><path d="M1104.3 493.0v1.6M1104.3 504.0v1.6M1098.0 499.3h1.6M1109.0 499.3h1.6" stroke="#c04000" stroke-width="1.2"/>
<path d="M1148.8 485.3L1154.0 485.3L1156.4 487.7L1156.4 492.9L1154.0 495.3L1148.8 495.3L1146.4 492.9L1146.4 487.7Z" fill="none" stroke="#c04000" stroke-width="1.25"/><path d="M1151.4 484.0v1.6M1151.4 495.0v1.6M1145.1 490.3h1.6M1156.1 490.3h1.6" stroke="#c04000" stroke-width="1.2"/>
<path d="M1154.8 513.3L1160.0 513.3L1162.4 515.7L1162.4 520.9L1160.0 523.3L1154.8 523.3L1152.4 520.9L1152.4 515.7Z" fill="none" stroke="#c04000" stroke-width="1.25"/><path d="M1157.4 512.0v1.6M1157.4 523.0v1.6M1151.1 518.3h1.6M1162.1 518.3h1.6" stroke="#c04000" stroke-width="1.2"/>
<path d="M1201.0 514.3L1206.2 514.3L1208.6 516.7L1208.6 521.9L1206.2 524.3L1201.0 524.3L1198.6 521.9L1198.6 516.7Z" fill="none" stroke="#c04000" stroke-width="1.25"/><path d="M1203.6 513.0v1.6M1203.6 524.0v1.6M1197.3 519.3h1.6M1208.3 519.3h1.6" stroke="#c04000" stroke-width="1.2"/>
<path d="M1207.7 514.3L1212.9 514.3L1215.3 516.7L1215.3 521.9L1212.9 524.3L1207.7 524.3L1205.3 521.9L1205.3 516.7Z" fill="none" stroke="#c04000" stroke-width="1.25"/><path d="M1210.3 513.0v1.6M1210.3 524.0v1.6M1204.0 519.3h1.6M1215.0 519.3h1.6" stroke="#c04000" stroke-width="1.2"/>
<path d="M1253.3 513.6L1258.5 513.6L1260.9 516.0L1260.9 521.2L1258.5 523.6L1253.3 523.6L1250.9 521.2L1250.9 516.0Z" fill="none" stroke="#c04000" stroke-width="1.25"/><path d="M1255.9 512.3v1.6M1255.9 523.3v1.6M1249.6 518.6h1.6M1260.6 518.6h1.6" stroke="#c04000" stroke-width="1.2"/>
<path d="M1260.1 514.2L1265.3 514.2L1267.7 516.6L1267.7 521.8L1265.3 524.2L1260.1 524.2L1257.7 521.8L1257.7 516.6Z" fill="none" stroke="#c04000" stroke-width="1.25"/><path d="M1262.7 512.9v1.6M1262.7 523.9v1.6M1256.4 519.2h1.6M1267.4 519.2h1.6" stroke="#c04000" stroke-width="1.2"/>
<path d="M1306.7 513.8L1311.9 513.8L1314.3 516.2L1314.3 521.4L1311.9 523.8L1306.7 523.8L1304.3 521.4L1304.3 516.2Z" fill="none" stroke="#c04000" stroke-width="1.25"/><path d="M1309.3 512.5v1.6M1309.3 523.5v1.6M1303.0 518.8h1.6M1314.0 518.8h1.6" stroke="#c04000" stroke-width="1.2"/>
<path d="M1313.1 515.1L1318.3 515.1L1320.7 517.5L1320.7 522.7L1318.3 525.1L1313.1 525.1L1310.7 522.7L1310.7 517.5Z" fill="none" stroke="#c04000" stroke-width="1.25"/><path d="M1315.7 513.8v1.6M1315.7 524.8v1.6M1309.4 520.1h1.6M1320.4 520.1h1.6" stroke="#c04000" stroke-width="1.2"/>
<path d="M1359.6 512.3L1364.8 512.3L1367.2 514.7L1367.2 519.9L1364.8 522.3L1359.6 522.3L1357.2 519.9L1357.2 514.7Z" fill="none" stroke="#c04000" stroke-width="1.25"/><path d="M1362.2 511.0v1.6M1362.2 522.0v1.6M1355.9 517.3h1.6M1366.9 517.3h1.6" stroke="#c04000" stroke-width="1.2"/>
<g shape-rendering="crispEdges">
<rect x="101" y="57" width="1266" height="1" fill="#000"/>
<rect x="101" y="539" width="1266" height="1" fill="#000"/>
<rect x="101" y="57" width="1" height="483" fill="#000"/>
<rect x="1366" y="57" width="1" height="483" fill="#000"/>
<rect x="101" y="421" width="7" height="1" fill="#000"/>
<rect x="1360" y="421" width="7" height="1" fill="#000"/>
<rect x="101" y="304" width="7" height="1" fill="#000"/>
<rect x="1360" y="304" width="7" height="1" fill="#000"/>
<rect x="101" y="186" width="7" height="1" fill="#000"/>
<rect x="1360" y="186" width="7" height="1" fill="#000"/>
<rect x="101" y="69" width="7" height="1" fill="#000"/>
<rect x="1360" y="69" width="7" height="1" fill="#000"/>
<rect x="154" y="57" width="1" height="4" fill="#000"/>
<rect x="154" y="536" width="1" height="4" fill="#000"/>
<rect x="206" y="57" width="1" height="7" fill="#000"/>
<rect x="206" y="533" width="1" height="7" fill="#000"/>
<rect x="259" y="57" width="1" height="4" fill="#000"/>
<rect x="259" y="536" width="1" height="4" fill="#000"/>
<rect x="312" y="57" width="1" height="7" fill="#000"/>
<rect x="312" y="533" width="1" height="7" fill="#000"/>
<rect x="365" y="57" width="1" height="4" fill="#000"/>
<rect x="365" y="536" width="1" height="4" fill="#000"/>
<rect x="417" y="57" width="1" height="7" fill="#000"/>
<rect x="417" y="533" width="1" height="7" fill="#000"/>
<rect x="470" y="57" width="1" height="4" fill="#000"/>
<rect x="470" y="536" width="1" height="4" fill="#000"/>
<rect x="523" y="57" width="1" height="7" fill="#000"/>
<rect x="523" y="533" width="1" height="7" fill="#000"/>
<rect x="575" y="57" width="1" height="4" fill="#000"/>
<rect x="575" y="536" width="1" height="4" fill="#000"/>
<rect x="628" y="57" width="1" height="7" fill="#000"/>
<rect x="628" y="533" width="1" height="7" fill="#000"/>
<rect x="681" y="57" width="1" height="4" fill="#000"/>
<rect x="681" y="536" width="1" height="4" fill="#000"/>
<rect x="734" y="57" width="1" height="7" fill="#000"/>
<rect x="734" y="533" width="1" height="7" fill="#000"/>
<rect x="786" y="57" width="1" height="4" fill="#000"/>
<rect x="786" y="536" width="1" height="4" fill="#000"/>
<rect x="839" y="57" width="1" height="7" fill="#000"/>
<rect x="839" y="533" width="1" height="7" fill="#000"/>
<rect x="892" y="57" width="1" height="4" fill="#000"/>
<rect x="892" y="536" width="1" height="4" fill="#000"/>
<rect x="944" y="57" width="1" height="7" fill="#000"/>
<rect x="944" y="533" width="1" height="7" fill="#000"/>
<rect x="997" y="57" width="1" height="4" fill="#000"/>
<rect x="997" y="536" width="1" height="4" fill="#000"/>
<rect x="1050" y="57" width="1" height="7" fill="#000"/>
<rect x="1050" y="533" width="1" height="7" fill="#000"/>
<rect x="1102" y="57" width="1" height="4" fill="#000"/>
<rect x="1102" y="536" width="1" height="4" fill="#000"/>
<rect x="1155" y="57" width="1" height="7" fill="#000"/>
<rect x="1155" y="533" width="1" height="7" fill="#000"/>
<rect x="1208" y="57" width="1" height="4" fill="#000"/>
<rect x="1208" y="536" width="1" height="4" fill="#000"/>
<rect x="1261" y="57" width="1" height="7" fill="#000"/>
<rect x="1261" y="533" width="1" height="7" fill="#000"/>
<rect x="1313" y="57" width="1" height="4" fill="#000"/>
<rect x="1313" y="536" width="1" height="4" fill="#000"/>
</g>
<rect x="97.6" y="533" width="12.0" height="12.5" rx="4" ry="4" fill="#c8c800"/>
<rect x="143.4" y="533" width="12.0" height="12.5" rx="4" ry="4" fill="#c8c800"/>
<rect x="202.3" y="533" width="12.0" height="12.5" rx="4" ry="4" fill="#c8c800"/>
<rect x="249.0" y="533" width="18.4" height="12.5" rx="4" ry="4" fill="#c8c800"/>
<rect x="301.9" y="533" width="18.4" height="12.5" rx="4" ry="4" fill="#c8c800"/>
<rect x="354.4" y="533" width="18.0" height="12.5" rx="4" ry="4" fill="#c8c800"/>
<rect x="407.1" y="533" width="18.2" height="12.5" rx="4" ry="4" fill="#c8c800"/>
<rect x="460.4" y="533" width="18.2" height="12.5" rx="4" ry="4" fill="#c8c800"/>
<rect x="512.1" y="533" width="18.6" height="12.5" rx="4" ry="4" fill="#c8c800"/>
<rect x="565.4" y="533" width="18.2" height="12.5" rx="4" ry="4" fill="#c8c800"/>
<rect x="618.3" y="533" width="18.4" height="12.5" rx="4" ry="4" fill="#c8c800"/>
<rect x="670.4" y="533" width="19.9" height="12.5" rx="4" ry="4" fill="#c8c800"/>
<rect x="723.3" y="533" width="18.4" height="12.5" rx="4" ry="4" fill="#c8c800"/>
<rect x="776.1" y="533" width="18.5" height="12.5" rx="4" ry="4" fill="#c8c800"/>
<rect x="829.4" y="533" width="18.0" height="12.5" rx="4" ry="4" fill="#c8c800"/>
<rect x="881.6" y="533" width="17.7" height="12.5" rx="4" ry="4" fill="#c8c800"/>
<rect x="934.4" y="533" width="18.0" height="12.5" rx="4" ry="4" fill="#c8c800"/>
<rect x="987.3" y="533" width="18.0" height="12.5" rx="4" ry="4" fill="#c8c800"/>
<rect x="1039.7" y="533" width="18.7" height="12.5" rx="4" ry="4" fill="#c8c800"/>
<rect x="1092.6" y="533" width="17.7" height="12.5" rx="4" ry="4" fill="#c8c800"/>
<rect x="1145.4" y="533" width="18.0" height="12.5" rx="4" ry="4" fill="#c8c800"/>
<rect x="1197.6" y="533" width="18.7" height="12.5" rx="4" ry="4" fill="#c8c800"/>
<rect x="1249.9" y="533" width="18.8" height="12.5" rx="4" ry="4" fill="#c8c800"/>
<rect x="1303.3" y="533" width="18.4" height="12.5" rx="4" ry="4" fill="#c8c800"/>
<rect x="1356.2" y="533" width="12.0" height="12.5" rx="4" ry="4" fill="#c8c800"/>
<g shape-rendering="crispEdges"><rect x="101" y="57" width="1" height="483" fill="#000"/><rect x="1366" y="57" width="1" height="483" fill="#000"/><rect x="101" y="539" width="1266" height="1" fill="#000"/></g>
<path d="M198.8 329.0L214.2 329.0L206.5 340.0Z" fill="none" stroke="#c080ff" stroke-width="1.1"/>
<path d="M198.8 347.8L214.2 347.8L206.5 358.8Z" fill="none" stroke="#306080" stroke-width="1.1"/>
<path d="M200.0 371.5H213.0M206.5 365.0V378.0" stroke="#008040" stroke-width="1.1"/>
<path d="M206.5 402L215.0 414.8L198.0 414.8Z" fill="#ffc020"/>
<rect x="200.7" y="427.70000000000005" width="11.600000000000001" height="11.600000000000001" fill="none" stroke="#c000ff" stroke-width="1.1"/>
<path d="M206.5 456.5L214.3 468.2L198.7 468.2Z" fill="none" stroke="#4169e1" stroke-width="1.1"/>
<rect x="200.0" y="480.8" width="13" height="13" fill="#00eeee"/>
<rect x="1288" y="72" width="57" height="1.3" fill="#ff0000"/>
<rect x="1288" y="91" width="57" height="1.3" fill="#00c000"/>
<rect x="1288" y="110" width="57" height="1.3" fill="#0080ff"/>
<rect x="1310.8" y="123.8" width="11.4" height="11.4" fill="none" stroke="#c000ff" stroke-width="1.1"/>
<rect x="1310.2" y="142.2" width="12.6" height="12.6" fill="#00eeee"/>
<path d="M1313.9 162.5L1319.1 162.5L1321.5 164.9L1321.5 170.1L1319.1 172.5L1313.9 172.5L1311.5 170.1L1311.5 164.9Z" fill="none" stroke="#c04000" stroke-width="1.25"/><path d="M1316.5 161.2v1.6M1316.5 172.2v1.6M1310.2 167.5h1.6M1321.2 167.5h1.6" stroke="#c04000" stroke-width="1.2"/>
<circle cx="1316.5" cy="186.5" r="5.8" fill="#c8c800"/>
<path d="M1316.5 197.5L1324.5 209.0L1308.5 209.0Z" fill="none" stroke="#4169e1" stroke-width="1.1"/>
<path d="M1316.5 216L1325.0 228.7L1308.0 228.7Z" fill="#ffc020"/>
<path d="M1310.0 243.5H1323.0M1316.5 237.0V250.0" stroke="#008040" stroke-width="1.1"/>
<path d="M1308.8 258.8L1324.2 258.8L1316.5 270.2Z" fill="none" stroke="#c080ff" stroke-width="1.1"/>
<path d="M1308.8 277.8L1324.2 277.8L1316.5 289.1Z" fill="none" stroke="#306080" stroke-width="1.1"/>
<text x="446.53" y="31.85" text-anchor="start" font-size="17" textLength="24.3" lengthAdjust="spacingAndGlyphs" xml:space="preserve">pi8</text>
<text x="476.28" y="31.85" text-anchor="start" font-size="17" textLength="27.4" lengthAdjust="spacingAndGlyphs" xml:space="preserve">Oct</text>
<text x="509.44" y="31.85" text-anchor="start" font-size="17" textLength="19.5" lengthAdjust="spacingAndGlyphs" xml:space="preserve">03</text>
<text x="539.93" y="31.85" text-anchor="start" font-size="17" textLength="64.1" lengthAdjust="spacingAndGlyphs" xml:space="preserve">near/far</text>
<text x="608.90" y="31.85" text-anchor="start" font-size="17" textLength="75.8" lengthAdjust="spacingAndGlyphs" xml:space="preserve">ICMP/TCP</text>
<text x="689.76" y="31.85" text-anchor="start" font-size="17" textLength="34.4" lengthAdjust="spacingAndGlyphs" xml:space="preserve">ping</text>
<text x="729.80" y="31.85" text-anchor="start" font-size="17" textLength="29.7" lengthAdjust="spacingAndGlyphs" xml:space="preserve">and</text>
<text x="765.00" y="31.85" text-anchor="start" font-size="17" textLength="29.7" lengthAdjust="spacingAndGlyphs" xml:space="preserve">curl</text>
<text x="800.21" y="31.85" text-anchor="start" font-size="17" textLength="44.4" lengthAdjust="spacingAndGlyphs" xml:space="preserve">times</text>
<text x="849.90" y="31.85" text-anchor="start" font-size="17" textLength="27.9" lengthAdjust="spacingAndGlyphs" xml:space="preserve">[No</text>
<text x="883.22" y="31.85" text-anchor="start" font-size="17" textLength="45.5" lengthAdjust="spacingAndGlyphs" xml:space="preserve">msmt</text>
<text x="934.48" y="31.85" text-anchor="start" font-size="17" textLength="81.6" lengthAdjust="spacingAndGlyphs" xml:space="preserve">1AM-2AM]</text>
<text x="86.30" y="542.80" text-anchor="end" font-size="17" textLength="9.6" lengthAdjust="spacingAndGlyphs" xml:space="preserve">0</text>
<text x="86.30" y="425.80" text-anchor="end" font-size="17" textLength="30.5" lengthAdjust="spacingAndGlyphs" xml:space="preserve">500</text>
<text x="86.30" y="307.80" text-anchor="end" font-size="17" textLength="39.2" lengthAdjust="spacingAndGlyphs" xml:space="preserve">1000</text>
<text x="86.30" y="189.80" text-anchor="end" font-size="17" textLength="39.6" lengthAdjust="spacingAndGlyphs" xml:space="preserve">1500</text>
<text x="86.30" y="72.80" text-anchor="end" font-size="17" textLength="40.6" lengthAdjust="spacingAndGlyphs" xml:space="preserve">2000</text>
<text x="0" y="0" font-size="17" transform="translate(17,298.3) rotate(-90)" text-anchor="middle" textLength="41.5" lengthAdjust="spacingAndGlyphs">msec</text>
<text x="100.00" y="561.50" text-anchor="middle" font-size="17" textLength="45.8" lengthAdjust="spacingAndGlyphs" xml:space="preserve">00:00</text>
<text x="205.42" y="561.50" text-anchor="middle" font-size="17" textLength="45.8" lengthAdjust="spacingAndGlyphs" xml:space="preserve">02:00</text>
<text x="310.83" y="561.50" text-anchor="middle" font-size="17" textLength="45.8" lengthAdjust="spacingAndGlyphs" xml:space="preserve">04:00</text>
<text x="416.25" y="561.50" text-anchor="middle" font-size="17" textLength="45.8" lengthAdjust="spacingAndGlyphs" xml:space="preserve">06:00</text>
<text x="521.67" y="561.50" text-anchor="middle" font-size="17" textLength="45.8" lengthAdjust="spacingAndGlyphs" xml:space="preserve">08:00</text>
<text x="627.08" y="561.50" text-anchor="middle" font-size="17" textLength="45.8" lengthAdjust="spacingAndGlyphs" xml:space="preserve">10:00</text>
<text x="732.50" y="561.50" text-anchor="middle" font-size="17" textLength="45.8" lengthAdjust="spacingAndGlyphs" xml:space="preserve">12:00</text>
<text x="837.92" y="561.50" text-anchor="middle" font-size="17" textLength="45.8" lengthAdjust="spacingAndGlyphs" xml:space="preserve">14:00</text>
<text x="943.33" y="561.50" text-anchor="middle" font-size="17" textLength="45.8" lengthAdjust="spacingAndGlyphs" xml:space="preserve">16:00</text>
<text x="1048.75" y="561.50" text-anchor="middle" font-size="17" textLength="45.8" lengthAdjust="spacingAndGlyphs" xml:space="preserve">18:00</text>
<text x="1154.17" y="561.50" text-anchor="middle" font-size="17" textLength="45.8" lengthAdjust="spacingAndGlyphs" xml:space="preserve">20:00</text>
<text x="1259.58" y="561.50" text-anchor="middle" font-size="17" textLength="45.8" lengthAdjust="spacingAndGlyphs" xml:space="preserve">22:00</text>
<text x="1365.00" y="561.50" text-anchor="middle" font-size="17" textLength="45.8" lengthAdjust="spacingAndGlyphs" xml:space="preserve">00:00</text>
<text x="326.17" y="590.00" text-anchor="start" font-size="17" textLength="70.8" lengthAdjust="spacingAndGlyphs" xml:space="preserve">&lt;-START</text>
<text x="401.77" y="590.00" text-anchor="start" font-size="17" textLength="15.7" lengthAdjust="spacingAndGlyphs" xml:space="preserve">at</text>
<text x="423.18" y="590.00" text-anchor="start" font-size="17" textLength="34.5" lengthAdjust="spacingAndGlyphs" xml:space="preserve">2AM</text>
<text x="462.59" y="590.00" text-anchor="start" font-size="17" textLength="44.9" lengthAdjust="spacingAndGlyphs" xml:space="preserve">Yday,</text>
<text x="512.75" y="590.00" text-anchor="start" font-size="17" textLength="37.3" lengthAdjust="spacingAndGlyphs" xml:space="preserve">right</text>
<text x="555.55" y="590.00" text-anchor="start" font-size="17" textLength="15.9" lengthAdjust="spacingAndGlyphs" xml:space="preserve">to</text>
<text x="577.09" y="590.00" text-anchor="start" font-size="17" textLength="44.6" lengthAdjust="spacingAndGlyphs" xml:space="preserve">12AM</text>
<text x="626.54" y="590.00" text-anchor="start" font-size="17" textLength="64.3" lengthAdjust="spacingAndGlyphs" xml:space="preserve">Tday-&gt;,</text>
<text x="695.96" y="590.00" text-anchor="start" font-size="17" textLength="36.2" lengthAdjust="spacingAndGlyphs" xml:space="preserve">then</text>
<text x="738.15" y="590.00" text-anchor="start" font-size="17" textLength="38.9" lengthAdjust="spacingAndGlyphs" xml:space="preserve">wrap</text>
<text x="782.53" y="590.00" text-anchor="start" font-size="17" textLength="25.8" lengthAdjust="spacingAndGlyphs" xml:space="preserve">left</text>
<text x="813.86" y="590.00" text-anchor="start" font-size="17" textLength="15.9" lengthAdjust="spacingAndGlyphs" xml:space="preserve">to</text>
<text x="835.44" y="590.00" text-anchor="start" font-size="17" textLength="34.4" lengthAdjust="spacingAndGlyphs" xml:space="preserve">1AM</text>
<text x="874.64" y="590.00" text-anchor="start" font-size="17" textLength="59.1" lengthAdjust="spacingAndGlyphs" xml:space="preserve">Tday&lt;-</text>
<text x="938.85" y="590.00" text-anchor="start" font-size="17" textLength="57.3" lengthAdjust="spacingAndGlyphs" xml:space="preserve">[ignore</text>
<text x="1001.43" y="590.00" text-anchor="start" font-size="17" textLength="88.5" lengthAdjust="spacingAndGlyphs" xml:space="preserve">connecting</text>
<text x="1095.53" y="590.00" text-anchor="start" font-size="17" textLength="43.3" lengthAdjust="spacingAndGlyphs" xml:space="preserve">lines]</text>
<text x="130.69" y="80.00" text-anchor="start" font-size="17" textLength="53.7" lengthAdjust="spacingAndGlyphs" xml:space="preserve">{/:Bold</text>
<text x="189.70" y="80.00" text-anchor="start" font-size="17" textLength="88.2" lengthAdjust="spacingAndGlyphs" xml:space="preserve">GENERAL:}</text>
<text x="128.58" y="100.00" text-anchor="start" font-size="17" textLength="36.6" lengthAdjust="spacingAndGlyphs" xml:space="preserve">near</text>
<text x="169.97" y="100.00" text-anchor="start" font-size="17" textLength="87.1" lengthAdjust="spacingAndGlyphs" xml:space="preserve">ICMP[ping]</text>
<text x="262.47" y="100.00" text-anchor="start" font-size="17" textLength="52.1" lengthAdjust="spacingAndGlyphs" xml:space="preserve">delays</text>
<text x="319.75" y="100.00" text-anchor="start" font-size="17" textLength="123.6" lengthAdjust="spacingAndGlyphs" xml:space="preserve">-Ypingresult.txt</text>
<text x="449.03" y="100.00" text-anchor="start" font-size="17" textLength="28.5" lengthAdjust="spacingAndGlyphs" xml:space="preserve">last</text>
<text x="483.06" y="100.00" text-anchor="start" font-size="17" textLength="37.0" lengthAdjust="spacingAndGlyphs" xml:space="preserve">hour</text>
<text x="524.98" y="100.00" text-anchor="start" font-size="17" textLength="48.8" lengthAdjust="spacingAndGlyphs" xml:space="preserve">target</text>
<text x="579.53" y="100.00" text-anchor="start" font-size="17" textLength="106.4" lengthAdjust="spacingAndGlyphs" xml:space="preserve">10.100.110.5</text>
<text x="691.86" y="100.00" text-anchor="start" font-size="17" textLength="53.5" lengthAdjust="spacingAndGlyphs" xml:space="preserve">hop#4</text>
<text x="750.75" y="100.00" text-anchor="start" font-size="17" textLength="30.2" lengthAdjust="spacingAndGlyphs" xml:space="preserve">---&gt;</text>
<text x="129.45" y="119.00" text-anchor="start" font-size="17" textLength="31.0" lengthAdjust="spacingAndGlyphs" xml:space="preserve">TCP</text>
<text x="165.52" y="119.00" text-anchor="start" font-size="17" textLength="34.1" lengthAdjust="spacingAndGlyphs" xml:space="preserve">ping</text>
<text x="205.02" y="119.00" text-anchor="start" font-size="17" textLength="51.4" lengthAdjust="spacingAndGlyphs" xml:space="preserve">delays</text>
<text x="261.54" y="119.00" text-anchor="start" font-size="17" textLength="147.0" lengthAdjust="spacingAndGlyphs" xml:space="preserve">-YTimetcpping.txt-</text>
<text x="413.80" y="119.00" text-anchor="start" font-size="17" textLength="42.4" lengthAdjust="spacingAndGlyphs" xml:space="preserve">using</text>
<text x="461.06" y="119.00" text-anchor="start" font-size="17" textLength="125.4" lengthAdjust="spacingAndGlyphs" xml:space="preserve">Top100Web---&gt;</text>
<text x="129.05" y="138.00" text-anchor="start" font-size="17" textLength="39.8" lengthAdjust="spacingAndGlyphs" xml:space="preserve">deep</text>
<text x="174.06" y="138.00" text-anchor="start" font-size="17" textLength="86.9" lengthAdjust="spacingAndGlyphs" xml:space="preserve">ICMP[ping]</text>
<text x="266.27" y="138.00" text-anchor="start" font-size="17" textLength="51.9" lengthAdjust="spacingAndGlyphs" xml:space="preserve">delays</text>
<text x="323.41" y="138.00" text-anchor="start" font-size="17" textLength="197.9" lengthAdjust="spacingAndGlyphs" xml:space="preserve">-YCustPingSiteTimes.txt-</text>
<text x="526.52" y="138.00" text-anchor="start" font-size="17" textLength="17.0" lengthAdjust="spacingAndGlyphs" xml:space="preserve">[X</text>
<text x="548.89" y="138.00" text-anchor="start" font-size="17" textLength="59.3" lengthAdjust="spacingAndGlyphs" xml:space="preserve">generic</text>
<text x="613.99" y="138.00" text-anchor="start" font-size="17" textLength="57.4" lengthAdjust="spacingAndGlyphs" xml:space="preserve">rpi]---&gt;</text>
<text x="129.83" y="157.00" text-anchor="start" font-size="17" textLength="32.2" lengthAdjust="spacingAndGlyphs" xml:space="preserve">web</text>
<text x="167.38" y="157.00" text-anchor="start" font-size="17" textLength="29.6" lengthAdjust="spacingAndGlyphs" xml:space="preserve">curl</text>
<text x="202.46" y="157.00" text-anchor="start" font-size="17" textLength="44.2" lengthAdjust="spacingAndGlyphs" xml:space="preserve">times</text>
<text x="251.81" y="157.00" text-anchor="start" font-size="17" textLength="114.6" lengthAdjust="spacingAndGlyphs" xml:space="preserve">-Ycurltime.txt-</text>
<text x="371.60" y="157.00" text-anchor="start" font-size="17" textLength="42.7" lengthAdjust="spacingAndGlyphs" xml:space="preserve">using</text>
<text x="420.38" y="157.00" text-anchor="start" font-size="17" textLength="166.9" lengthAdjust="spacingAndGlyphs" xml:space="preserve">www.google.com---&gt;</text>
<text x="128.47" y="177.00" text-anchor="start" font-size="17" textLength="34.2" lengthAdjust="spacingAndGlyphs" xml:space="preserve">DNS</text>
<text x="168.05" y="177.00" text-anchor="start" font-size="17" textLength="45.8" lengthAdjust="spacingAndGlyphs" xml:space="preserve">query</text>
<text x="219.58" y="177.00" text-anchor="start" font-size="17" textLength="44.4" lengthAdjust="spacingAndGlyphs" xml:space="preserve">times</text>
<text x="269.19" y="177.00" text-anchor="start" font-size="17" textLength="143.9" lengthAdjust="spacingAndGlyphs" xml:space="preserve">-Ycurldnstime.txt-</text>
<text x="418.33" y="177.00" text-anchor="start" font-size="17" textLength="42.9" lengthAdjust="spacingAndGlyphs" xml:space="preserve">using</text>
<text x="466.91" y="177.00" text-anchor="start" font-size="17" textLength="57.2" lengthAdjust="spacingAndGlyphs" xml:space="preserve">router?</text>
<text x="530.07" y="177.00" text-anchor="start" font-size="17" textLength="126.8" lengthAdjust="spacingAndGlyphs" xml:space="preserve">192.168.1.1---&gt;</text>
<text x="128.31" y="196.00" text-anchor="start" font-size="17" textLength="83.0" lengthAdjust="spacingAndGlyphs" xml:space="preserve">Hyperping</text>
<text x="216.84" y="196.00" text-anchor="start" font-size="17" textLength="70.8" lengthAdjust="spacingAndGlyphs" xml:space="preserve">timeouts</text>
<text x="292.80" y="196.00" text-anchor="start" font-size="17" textLength="151.3" lengthAdjust="spacingAndGlyphs" xml:space="preserve">-YHPpingresult.txt-</text>
<text x="449.17" y="196.00" text-anchor="start" font-size="17" textLength="30.2" lengthAdjust="spacingAndGlyphs" xml:space="preserve">---&gt;</text>
<text x="128.36" y="215.00" text-anchor="start" font-size="17" textLength="33.3" lengthAdjust="spacingAndGlyphs" xml:space="preserve">Last</text>
<text x="167.27" y="215.00" text-anchor="start" font-size="17" textLength="20.9" lengthAdjust="spacingAndGlyphs" xml:space="preserve">rpi</text>
<text x="193.87" y="215.00" text-anchor="start" font-size="17" textLength="41.4" lengthAdjust="spacingAndGlyphs" xml:space="preserve">boot:</text>
<text x="240.87" y="215.00" text-anchor="start" font-size="17" textLength="93.1" lengthAdjust="spacingAndGlyphs" xml:space="preserve">2024-10-01</text>
<text x="340.09" y="215.00" text-anchor="start" font-size="17" textLength="71.7" lengthAdjust="spacingAndGlyphs" xml:space="preserve">01:17:21</text>
<text x="211.97" y="235.00" text-anchor="start" font-size="17" textLength="40.3" lengthAdjust="spacingAndGlyphs" xml:space="preserve">-DNS</text>
<text x="257.64" y="235.00" text-anchor="start" font-size="17" textLength="51.6" lengthAdjust="spacingAndGlyphs" xml:space="preserve">query,</text>
<text x="314.97" y="235.00" text-anchor="start" font-size="17" textLength="32.5" lengthAdjust="spacingAndGlyphs" xml:space="preserve">web</text>
<text x="352.81" y="235.00" text-anchor="start" font-size="17" textLength="29.8" lengthAdjust="spacingAndGlyphs" xml:space="preserve">curl</text>
<text x="388.19" y="235.00" text-anchor="start" font-size="17" textLength="26.2" lengthAdjust="spacingAndGlyphs" xml:space="preserve">are</text>
<text x="419.66" y="235.00" text-anchor="start" font-size="17" textLength="70.1" lengthAdjust="spacingAndGlyphs" xml:space="preserve">twice/hr,</text>
<text x="495.04" y="235.00" text-anchor="start" font-size="17" textLength="75.1" lengthAdjust="spacingAndGlyphs" xml:space="preserve">beginnng</text>
<text x="575.77" y="235.00" text-anchor="start" font-size="17" textLength="29.8" lengthAdjust="spacingAndGlyphs" xml:space="preserve">and</text>
<text x="611.12" y="235.00" text-anchor="start" font-size="17" textLength="29.9" lengthAdjust="spacingAndGlyphs" xml:space="preserve">end</text>
<text x="646.55" y="235.00" text-anchor="start" font-size="17" textLength="15.7" lengthAdjust="spacingAndGlyphs" xml:space="preserve">of</text>
<text x="667.28" y="235.00" text-anchor="start" font-size="17" textLength="37.0" lengthAdjust="spacingAndGlyphs" xml:space="preserve">hour</text>
<text x="211.89" y="254.00" text-anchor="start" font-size="17" textLength="87.8" lengthAdjust="spacingAndGlyphs" xml:space="preserve">-near,deep</text>
<text x="305.04" y="254.00" text-anchor="start" font-size="17" textLength="39.8" lengthAdjust="spacingAndGlyphs" xml:space="preserve">ICMP</text>
<text x="349.99" y="254.00" text-anchor="start" font-size="17" textLength="43.1" lengthAdjust="spacingAndGlyphs" xml:space="preserve">pings</text>
<text x="398.58" y="254.00" text-anchor="start" font-size="17" textLength="26.2" lengthAdjust="spacingAndGlyphs" xml:space="preserve">are</text>
<text x="430.05" y="254.00" text-anchor="start" font-size="17" textLength="74.4" lengthAdjust="spacingAndGlyphs" xml:space="preserve">once/min</text>
<text x="509.86" y="254.00" text-anchor="start" font-size="17" textLength="35.4" lengthAdjust="spacingAndGlyphs" xml:space="preserve">until</text>
<text x="550.73" y="254.00" text-anchor="start" font-size="17" textLength="109.7" lengthAdjust="spacingAndGlyphs" xml:space="preserve">timeout[1000</text>
<text x="666.10" y="254.00" text-anchor="start" font-size="17" textLength="54.1" lengthAdjust="spacingAndGlyphs" xml:space="preserve">msec],</text>
<text x="725.42" y="254.00" text-anchor="start" font-size="17" textLength="41.8" lengthAdjust="spacingAndGlyphs" xml:space="preserve">then:</text>
<text x="221.69" y="273.00" text-anchor="start" font-size="17" textLength="97.8" lengthAdjust="spacingAndGlyphs" xml:space="preserve">-Hyperpings</text>
<text x="324.70" y="273.00" text-anchor="start" font-size="17" textLength="58.7" lengthAdjust="spacingAndGlyphs" xml:space="preserve">[6/min]</text>
<text x="388.77" y="273.00" text-anchor="start" font-size="17" textLength="71.4" lengthAdjust="spacingAndGlyphs" xml:space="preserve">initiated;</text>
<text x="465.47" y="273.00" text-anchor="start" font-size="17" textLength="66.2" lengthAdjust="spacingAndGlyphs" xml:space="preserve">[vertical</text>
<text x="537.38" y="273.00" text-anchor="start" font-size="17" textLength="68.8" lengthAdjust="spacingAndGlyphs" xml:space="preserve">stacked]</text>
<text x="611.57" y="273.00" text-anchor="start" font-size="17" textLength="37.1" lengthAdjust="spacingAndGlyphs" xml:space="preserve">ticks</text>
<text x="654.16" y="273.00" text-anchor="start" font-size="17" textLength="26.2" lengthAdjust="spacingAndGlyphs" xml:space="preserve">are</text>
<text x="685.68" y="273.00" text-anchor="start" font-size="17" textLength="71.0" lengthAdjust="spacingAndGlyphs" xml:space="preserve">timeouts</text>
<text x="212.00" y="292.00" text-anchor="start" font-size="17" textLength="36.7" lengthAdjust="spacingAndGlyphs" xml:space="preserve">-TCP</text>
<text x="253.86" y="292.00" text-anchor="start" font-size="17" textLength="43.0" lengthAdjust="spacingAndGlyphs" xml:space="preserve">pings</text>
<text x="302.30" y="292.00" text-anchor="start" font-size="17" textLength="26.1" lengthAdjust="spacingAndGlyphs" xml:space="preserve">are</text>
<text x="333.68" y="292.00" text-anchor="start" font-size="17" textLength="74.2" lengthAdjust="spacingAndGlyphs" xml:space="preserve">once/min</text>
<text x="412.99" y="292.00" text-anchor="start" font-size="17" textLength="16.8" lengthAdjust="spacingAndGlyphs" xml:space="preserve">[if</text>
<text x="434.89" y="292.00" text-anchor="start" font-size="17" textLength="97.9" lengthAdjust="spacingAndGlyphs" xml:space="preserve">plotted][use</text>
<text x="537.53" y="292.00" text-anchor="start" font-size="17" textLength="57.0" lengthAdjust="spacingAndGlyphs" xml:space="preserve">Ytcpoff</text>
<text x="599.48" y="292.00" text-anchor="start" font-size="17" textLength="22.3" lengthAdjust="spacingAndGlyphs" xml:space="preserve">for</text>
<text x="626.74" y="292.00" text-anchor="start" font-size="17" textLength="77.1" lengthAdjust="spacingAndGlyphs" xml:space="preserve">timeouts]</text>
<text x="130.69" y="321.00" text-anchor="start" font-size="17" textLength="54.0" lengthAdjust="spacingAndGlyphs" xml:space="preserve">{/:Bold</text>
<text x="190.10" y="321.00" text-anchor="start" font-size="17" textLength="107.2" lengthAdjust="spacingAndGlyphs" xml:space="preserve">ANOMALIES:}</text>
<text x="216.49" y="341.00" text-anchor="start" font-size="17" textLength="128.8" lengthAdjust="spacingAndGlyphs" xml:space="preserve">(850)PingTarget</text>
<text x="350.99" y="341.00" text-anchor="start" font-size="17" textLength="12.2" lengthAdjust="spacingAndGlyphs" xml:space="preserve">is</text>
<text x="368.61" y="341.00" text-anchor="start" font-size="17" textLength="54.5" lengthAdjust="spacingAndGlyphs" xml:space="preserve">router!</text>
<text x="216.44" y="359.00" text-anchor="start" font-size="17" textLength="77.9" lengthAdjust="spacingAndGlyphs" xml:space="preserve">(785)ipv6</text>
<text x="299.83" y="359.00" text-anchor="start" font-size="17" textLength="57.3" lengthAdjust="spacingAndGlyphs" xml:space="preserve">failure!</text>
<text x="216.44" y="379.00" text-anchor="start" font-size="17" textLength="140.0" lengthAdjust="spacingAndGlyphs" xml:space="preserve">(500+)Hyperping</text>
<text x="361.38" y="379.00" text-anchor="start" font-size="17" textLength="75.1" lengthAdjust="spacingAndGlyphs" xml:space="preserve">Timeouts</text>
<text x="441.68" y="379.00" text-anchor="start" font-size="17" textLength="36.0" lengthAdjust="spacingAndGlyphs" xml:space="preserve">----&gt;</text>
<text x="216.47" y="398.00" text-anchor="start" font-size="17" textLength="91.8" lengthAdjust="spacingAndGlyphs" xml:space="preserve">(1000)Near</text>
<text x="313.16" y="398.00" text-anchor="start" font-size="17" textLength="39.7" lengthAdjust="spacingAndGlyphs" xml:space="preserve">ICMP</text>
<text x="357.17" y="398.00" text-anchor="start" font-size="17" textLength="66.3" lengthAdjust="spacingAndGlyphs" xml:space="preserve">Timeout</text>
<text x="429.20" y="398.00" text-anchor="start" font-size="17" textLength="50.0" lengthAdjust="spacingAndGlyphs" xml:space="preserve">spikes</text>
<text x="216.50" y="418.00" text-anchor="start" font-size="17" textLength="76.8" lengthAdjust="spacingAndGlyphs" xml:space="preserve">(550)Ping</text>
<text x="298.29" y="418.00" text-anchor="start" font-size="17" textLength="52.6" lengthAdjust="spacingAndGlyphs" xml:space="preserve">Target</text>
<text x="356.29" y="418.00" text-anchor="start" font-size="17" textLength="69.4" lengthAdjust="spacingAndGlyphs" xml:space="preserve">Changes</text>
<text x="430.90" y="418.00" text-anchor="start" font-size="17" textLength="30.0" lengthAdjust="spacingAndGlyphs" xml:space="preserve">---&gt;</text>
<text x="216.57" y="437.00" text-anchor="start" font-size="17" textLength="108.7" lengthAdjust="spacingAndGlyphs" xml:space="preserve">(450)OFFLINE</text>
<text x="331.03" y="437.00" text-anchor="start" font-size="17" textLength="49.9" lengthAdjust="spacingAndGlyphs" xml:space="preserve">STATE</text>
<text x="386.31" y="437.00" text-anchor="start" font-size="17" textLength="41.4" lengthAdjust="spacingAndGlyphs" xml:space="preserve">-----&gt;</text>
<text x="216.48" y="456.00" text-anchor="start" font-size="17" textLength="205.4" lengthAdjust="spacingAndGlyphs" xml:space="preserve">(400)Reboot/powercycle?</text>
<text x="427.40" y="456.00" text-anchor="start" font-size="17" textLength="36.0" lengthAdjust="spacingAndGlyphs" xml:space="preserve">----&gt;</text>
<text x="216.48" y="475.00" text-anchor="start" font-size="17" textLength="85.5" lengthAdjust="spacingAndGlyphs" xml:space="preserve">(320)Deep</text>
<text x="307.33" y="475.00" text-anchor="start" font-size="17" textLength="39.8" lengthAdjust="spacingAndGlyphs" xml:space="preserve">ICMP</text>
<text x="351.55" y="475.00" text-anchor="start" font-size="17" textLength="75.1" lengthAdjust="spacingAndGlyphs" xml:space="preserve">Timeouts</text>
<text x="431.87" y="475.00" text-anchor="start" font-size="17" textLength="36.1" lengthAdjust="spacingAndGlyphs" xml:space="preserve">----&gt;</text>
<text x="216.54" y="494.00" text-anchor="start" font-size="17" textLength="74.2" lengthAdjust="spacingAndGlyphs" xml:space="preserve">(220)TCP</text>
<text x="295.75" y="494.00" text-anchor="start" font-size="17" textLength="34.6" lengthAdjust="spacingAndGlyphs" xml:space="preserve">ping</text>
<text x="335.26" y="494.00" text-anchor="start" font-size="17" textLength="75.0" lengthAdjust="spacingAndGlyphs" xml:space="preserve">Timeouts</text>
<text x="415.50" y="494.00" text-anchor="start" font-size="17" textLength="41.8" lengthAdjust="spacingAndGlyphs" xml:space="preserve">-----&gt;</text>
<text x="1063.21" y="76.10" text-anchor="start" font-size="17" textLength="131.6" lengthAdjust="spacingAndGlyphs" xml:space="preserve">"Ypingresult.txt"</text>
<text x="1200.93" y="76.10" text-anchor="start" font-size="17" textLength="43.1" lengthAdjust="spacingAndGlyphs" xml:space="preserve">using</text>
<text x="1249.82" y="76.10" text-anchor="start" font-size="17" textLength="24.8" lengthAdjust="spacingAndGlyphs" xml:space="preserve">1:2</text>
<text x="1044.01" y="95.02" text-anchor="start" font-size="17" textLength="150.9" lengthAdjust="spacingAndGlyphs" xml:space="preserve">"YTimetcpping.txt"</text>
<text x="1200.99" y="95.02" text-anchor="start" font-size="17" textLength="43.0" lengthAdjust="spacingAndGlyphs" xml:space="preserve">using</text>
<text x="1249.84" y="95.02" text-anchor="start" font-size="17" textLength="24.8" lengthAdjust="spacingAndGlyphs" xml:space="preserve">1:2</text>
<text x="996.05" y="113.94" text-anchor="start" font-size="17" textLength="199.3" lengthAdjust="spacingAndGlyphs" xml:space="preserve">"YCustPingSiteTimes.txt"</text>
<text x="1201.41" y="113.94" text-anchor="start" font-size="17" textLength="42.8" lengthAdjust="spacingAndGlyphs" xml:space="preserve">using</text>
<text x="1249.98" y="113.94" text-anchor="start" font-size="17" textLength="24.7" lengthAdjust="spacingAndGlyphs" xml:space="preserve">1:2</text>
<text x="1050.01" y="132.86" text-anchor="start" font-size="17" textLength="145.5" lengthAdjust="spacingAndGlyphs" xml:space="preserve">"Yofflineresult.txt"</text>
<text x="1201.56" y="132.86" text-anchor="start" font-size="17" textLength="42.7" lengthAdjust="spacingAndGlyphs" xml:space="preserve">using</text>
<text x="1250.03" y="132.86" text-anchor="start" font-size="17" textLength="24.6" lengthAdjust="spacingAndGlyphs" xml:space="preserve">1:2</text>
<text x="1037.52" y="151.78" text-anchor="start" font-size="17" textLength="157.3" lengthAdjust="spacingAndGlyphs" xml:space="preserve">"Ytcpoff_record.txt"</text>
<text x="1200.93" y="151.78" text-anchor="start" font-size="17" textLength="43.1" lengthAdjust="spacingAndGlyphs" xml:space="preserve">using</text>
<text x="1249.82" y="151.78" text-anchor="start" font-size="17" textLength="24.8" lengthAdjust="spacingAndGlyphs" xml:space="preserve">1:2</text>
<text x="1077.10" y="170.70" text-anchor="start" font-size="17" textLength="117.5" lengthAdjust="spacingAndGlyphs" xml:space="preserve">"Ycurltime.txt"</text>
<text x="1200.69" y="170.70" text-anchor="start" font-size="17" textLength="43.2" lengthAdjust="spacingAndGlyphs" xml:space="preserve">using</text>
<text x="1249.75" y="170.70" text-anchor="start" font-size="17" textLength="24.9" lengthAdjust="spacingAndGlyphs" xml:space="preserve">1:2</text>
<text x="1047.95" y="189.62" text-anchor="start" font-size="17" textLength="146.6" lengthAdjust="spacingAndGlyphs" xml:space="preserve">"Ycurldnstime.txt"</text>
<text x="1200.63" y="189.62" text-anchor="start" font-size="17" textLength="43.2" lengthAdjust="spacingAndGlyphs" xml:space="preserve">using</text>
<text x="1249.73" y="189.62" text-anchor="start" font-size="17" textLength="24.9" lengthAdjust="spacingAndGlyphs" xml:space="preserve">1:2</text>
<text x="1008.44" y="208.54" text-anchor="start" font-size="17" textLength="186.8" lengthAdjust="spacingAndGlyphs" xml:space="preserve">"YCustPingTimeout.txt"</text>
<text x="1201.28" y="208.54" text-anchor="start" font-size="17" textLength="42.8" lengthAdjust="spacingAndGlyphs" xml:space="preserve">using</text>
<text x="1249.94" y="208.54" text-anchor="start" font-size="17" textLength="24.7" lengthAdjust="spacingAndGlyphs" xml:space="preserve">1:2</text>
<text x="1028.42" y="227.46" text-anchor="start" font-size="17" textLength="166.6" lengthAdjust="spacingAndGlyphs" xml:space="preserve">"Ypingtargetchange"</text>
<text x="1201.10" y="227.46" text-anchor="start" font-size="17" textLength="43.0" lengthAdjust="spacingAndGlyphs" xml:space="preserve">using</text>
<text x="1249.88" y="227.46" text-anchor="start" font-size="17" textLength="24.8" lengthAdjust="spacingAndGlyphs" xml:space="preserve">1:2</text>
<text x="1040.93" y="246.38" text-anchor="start" font-size="17" textLength="153.7" lengthAdjust="spacingAndGlyphs" xml:space="preserve">"YHPpingresult.txt"</text>
<text x="1200.78" y="246.38" text-anchor="start" font-size="17" textLength="43.1" lengthAdjust="spacingAndGlyphs" xml:space="preserve">using</text>
<text x="1249.78" y="246.38" text-anchor="start" font-size="17" textLength="24.9" lengthAdjust="spacingAndGlyphs" xml:space="preserve">1:2</text>
<text x="1022.12" y="265.30" text-anchor="start" font-size="17" textLength="172.6" lengthAdjust="spacingAndGlyphs" xml:space="preserve">"YpingtargetISrouter"</text>
<text x="1200.78" y="265.30" text-anchor="start" font-size="17" textLength="43.1" lengthAdjust="spacingAndGlyphs" xml:space="preserve">using</text>
<text x="1249.78" y="265.30" text-anchor="start" font-size="17" textLength="24.9" lengthAdjust="spacingAndGlyphs" xml:space="preserve">1:2</text>
<text x="1116.73" y="284.22" text-anchor="start" font-size="17" textLength="77.9" lengthAdjust="spacingAndGlyphs" xml:space="preserve">"Ynoipv6"</text>
<text x="1200.76" y="284.22" text-anchor="start" font-size="17" textLength="43.2" lengthAdjust="spacingAndGlyphs" xml:space="preserve">using</text>
<text x="1249.77" y="284.22" text-anchor="start" font-size="17" textLength="24.9" lengthAdjust="spacingAndGlyphs" xml:space="preserve">1:2</text>
</svg></body></html>
